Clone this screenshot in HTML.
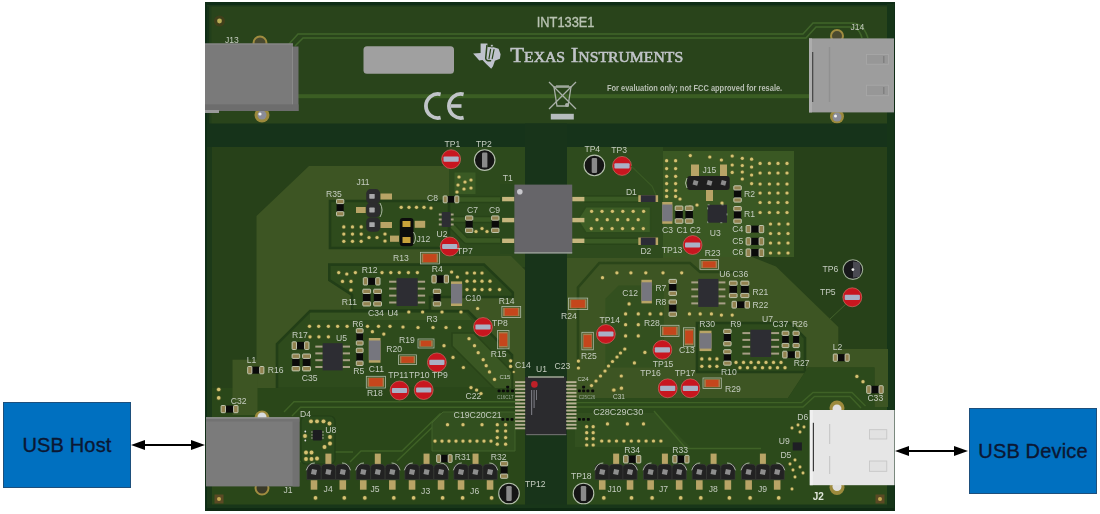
<!DOCTYPE html>
<html><head><meta charset="utf-8">
<style>
html,body{margin:0;padding:0;background:#fff;width:1100px;height:514px;overflow:hidden;}
svg{display:block;position:absolute;left:0;top:0;will-change:transform;}
.s{font-family:"Liberation Sans",sans-serif;}
.sf{font-family:"Liberation Serif",serif;}
.lb{font-family:"Liberation Sans",sans-serif;font-size:8.6px;fill:#c5ccc0;}
.box{position:absolute;background:#0070c0;border:1px solid #1d4f7c;box-sizing:border-box;font-family:"Liberation Sans",sans-serif;color:#0b1733;font-size:20px;-webkit-text-stroke:0.35px #0b1733;letter-spacing:0.15px;display:flex;align-items:center;justify-content:center;}
</style></head>
<body>
<svg width="1100" height="514" viewBox="0 0 1100 514">
<!-- BOARD base -->
<rect x="205" y="2" width="690" height="509" fill="#0f2d16"/>
<rect x="207" y="5" width="680" height="503" fill="#29441b"/>
<rect x="887" y="4" width="7" height="505" fill="#163518"/>
<!-- ===== HEADER ===== -->
<g id="header">
  <!-- mounting hole -->
  <rect x="207" y="5" width="2.5" height="119" fill="#173318"/>
  <rect x="209.5" y="5" width="2" height="119" fill="#223f1b"/>
  <rect x="207" y="5" width="680" height="1.5" fill="#1c381a"/>
  <circle cx="219.5" cy="21" r="5.5" fill="#5a3a1a" opacity="0.45"/>
  <circle cx="219.5" cy="21" r="2.4" fill="#b9ad55"/>
  <!-- traces -->
  <path d="M289,44 L298,34 L803,34 L813,23 L852,23 Q862,23 866,33 L868,38" fill="none" stroke="#40652a" stroke-width="1.6"/>
  <path d="M295,46 L303,38 L806,38 L816,27 L850,27 Q858,27 861,35 L862,38" fill="none" stroke="#40652a" stroke-width="1.6"/>
  <rect x="298" y="94.2" width="511" height="4" fill="#3b5e23"/>
  <!-- label box -->
  <rect x="363.5" y="46.3" width="90.5" height="27.5" rx="3.5" fill="#a0a0a0"/>
  <!-- INT133E1 -->
  <text x="536.8" y="27.1" class="s" font-size="14" fill="#b9c3b3" stroke="#b9c3b3" stroke-width="0.35" textLength="57.7" lengthAdjust="spacingAndGlyphs">INT133E1</text>
  <!-- TI logo -->
  <path d="M480.6,43.4 L487.4,43.4 L487.6,47 L493.7,47.3 L498.6,48.7 L500.6,54.3 L499.9,58.7 L494.9,60.7 L493,66.2 L491.2,68.8 L486.2,63.9 L482.5,60 L479.3,60.6 L473.1,53.4 L480.6,53 Z" fill="#bfc3cd"/>
  <g stroke="#29441b" fill="none" stroke-linecap="round">
    <path d="M486.9,45.6 L485.7,58.2 Q486,61.3 490.6,60.7" stroke-width="1.5"/>
    <path d="M490.6,49.4 L489,58.6" stroke-width="1.2"/>
    <path d="M494,49.6 L492.2,58.6" stroke-width="1.2"/>
  </g>
  <circle cx="491.9" cy="45.7" r="1.3" fill="#cfd3d8" stroke="#29441b" stroke-width="0.7"/>
  <!-- TEXAS INSTRUMENTS -->
  <text x="510.2" y="62" class="sf" font-size="21.6" fill="#c0c4c8" stroke="#c0c4c8" stroke-width="0.55" font-variant="small-caps" textLength="173" lengthAdjust="spacingAndGlyphs">Texas Instruments</text>
  <!-- For evaluation -->
  <text x="606.9" y="90.5" class="s" font-size="8.2" font-weight="bold" fill="#b8bfb4" textLength="175.3" lengthAdjust="spacingAndGlyphs">For evaluation only; not FCC approved for resale.</text>
  <!-- CE -->
  <path d="M440.6,94.3 A12,12 0 1 0 440.6,117.7" fill="none" stroke="#c0c4c8" stroke-width="3.8"/>
  <path d="M463.6,94.3 A12,12 0 1 0 463.6,117.7" fill="none" stroke="#c0c4c8" stroke-width="3.8"/>
  <rect x="451" y="104.2" width="10.5" height="3.6" fill="#c0c4c8"/>
  <!-- WEEE -->
  <g stroke="#a9b0a8" stroke-width="1.3" fill="none">
    <line x1="549" y1="82" x2="576" y2="109"/>
    <line x1="576" y1="82" x2="549" y2="109"/>
    <path d="M554,87 L571,87 L568,106 L557,106 Z"/>
    <line x1="556" y1="86" x2="569" y2="86"/>
  </g>
  <circle cx="567" cy="105" r="2" fill="#a9b0a8"/>
  <rect x="550.8" y="113.8" width="23" height="5.7" fill="#b6bcbd"/>
  <!-- J13 -->
  <circle cx="260" cy="43" r="6.5" fill="#4a4a30" stroke="#a08c40" stroke-width="2"/>
  <circle cx="262" cy="115" r="7.5" fill="#9c8a3c"/>
  <circle cx="262" cy="115" r="4.5" fill="#8a8c98"/><circle cx="260" cy="114" r="1.6" fill="#f0f0f0"/>
  <rect x="205" y="43.5" width="88" height="67.5" fill="#7a7a7a"/>
  <rect x="292" y="46.5" width="6.5" height="64.5" fill="#717171"/>
  <rect x="292" y="46.5" width="1" height="64.5" fill="#8a8a8a"/>
  <rect x="205" y="104.4" width="93.5" height="6.6" fill="#6d6d6d"/>
  <rect x="205" y="43.5" width="88" height="1" fill="#8c8c8c"/>
  <rect x="205" y="110" width="14" height="3" fill="#9a9a9a"/>
  <text x="225" y="43" class="lb" fill="#c5ccc0">J13</text>
  <!-- J14 -->
  <circle cx="837" cy="36" r="6" fill="#4a4a30" stroke="#a08c40" stroke-width="2"/>
  <circle cx="837" cy="116.5" r="7" fill="#9c8a3c"/>
  <circle cx="837" cy="117" r="4.5" fill="#8a8c98"/><circle cx="835.5" cy="116" r="1.5" fill="#f0f0f0"/>
  <rect x="809" y="38.4" width="85" height="74" fill="#9d9d9d"/>
  <rect x="809" y="38.4" width="3" height="74" fill="#adadad"/>
  <rect x="812" y="52" width="1.3" height="50" fill="#4a4a4a"/>
  <rect x="828.8" y="47" width="1.4" height="55" fill="#909090"/>
  <rect x="866.5" y="54.5" width="21.9" height="9.7" fill="#979797" stroke="#a8a8a8" stroke-width="0.8"/>
  <rect x="883" y="56" width="1.5" height="7" fill="#808080"/>
  <rect x="866.5" y="85.2" width="21.9" height="10.5" fill="#979797" stroke="#a8a8a8" stroke-width="0.8"/>
  <rect x="883" y="87" width="1.5" height="7" fill="#808080"/>
  <text x="850.4" y="29.7" class="lb">J14</text>
</g>

<!-- ===== LOWER BOARD ===== -->
<rect x="207" y="123.5" width="680" height="23.5" fill="#16331a"/>
<rect x="207" y="147" width="5" height="361" fill="#1c3919"/>
<rect x="212" y="147" width="313" height="360" fill="#274119"/>
<rect x="567" y="147" width="320" height="360" fill="#274119"/>
<rect x="525" y="123.5" width="42" height="385" fill="#18341a"/>
<rect x="449" y="147" width="76" height="120" fill="#2d4a1c"/>
<polygon points="309,166 449,166 449,256 511,256 525,270 525,388 256.5,388 256.5,216" fill="#3d5523"/>
<path d="M459,199.5 L502,199.5" fill="none" stroke="#284418" stroke-width="7.5" stroke-linejoin="round"/>
<path d="M452,219.5 L502,219.5" fill="none" stroke="#284418" stroke-width="7.5" stroke-linejoin="round"/>
<path d="M452,226 L466,240.5 L502,240.5" fill="none" stroke="#284418" stroke-width="7.5" stroke-linejoin="round"/>
<path d="M459,199.5 L502,199.5" fill="none" stroke="#3a5923" stroke-width="4.5" stroke-linejoin="round"/>
<path d="M452,219.5 L502,219.5" fill="none" stroke="#3a5923" stroke-width="4.5" stroke-linejoin="round"/>
<path d="M452,226 L466,240.5 L502,240.5" fill="none" stroke="#3a5923" stroke-width="4.5" stroke-linejoin="round"/>
<rect x="232.5" y="359.7" width="25" height="55" fill="#3d5523"/>
<rect x="454.5" y="172.5" width="21" height="21.5" fill="#3a5a24"/>
<polygon points="330,201 449,201 449,248 330,248" fill="#2e4b1c" stroke="#223e17" stroke-width="2.6"/>
<polygon points="329.3,264.6 484,264.6 512.8,292.5 512.8,297 430,297 430,310.6 352,310.6 352,295 329.3,280" fill="#2e4b1c" stroke="#223e17" stroke-width="2.6"/>
<polygon points="310,311 468,311 512,355 512,389 277,389 277,344" fill="#2e4b1c" stroke="#223e17" stroke-width="2.6"/>
<polygon points="452,333 474,333 512,372 512,392 498,392 452,346" fill="#3a5723" stroke="#294418" stroke-width="1.6"/>
<polygon points="310,313 466,313 472,320 310,320" fill="#375421"/>
<rect x="212" y="388" width="313" height="119" fill="#2a4719"/>
<rect x="232.5" y="388" width="25" height="27" fill="#3d5523"/>
<rect x="567" y="147" width="96" height="111" fill="#2e4b1d"/>
<polygon points="663,151 794,151 794,257 663,257" fill="#3a5823"/>
<polygon points="567,258 663,258 663,257 752,257 776,266.6 838.3,327 838.3,349 888,349 888,407 874.4,407 874.4,367.5 808,367.5 788,398 567,398" fill="#3d5523"/>
<polygon points="577.7,219.7 585.9,206.8 650.6,206.8 650.6,232.7 585.9,232.7" fill="#3d5d25" stroke="#2c4a1c" stroke-width="1.5"/>
<rect x="584" y="195.2" width="56" height="7.5" fill="#294519"/>
<rect x="584" y="237.4" width="56" height="7.5" fill="#294519"/>
<rect x="584" y="196.7" width="56" height="4.6" fill="#3a5a24"/>
<rect x="584" y="238.9" width="56" height="4.6" fill="#3a5a24"/>
<polygon points="618.5,285.6 664,285.6 664,367.5 605.4,367.5 605.4,298.8" fill="#33501f"/>
<path d="M578,367.5 L578,287.4 L599.3,263 L690,263 L700,272 L745,272" fill="none" stroke="#2a4519" stroke-width="2.6"/>
<polygon points="697,323 790,323 805,338 805,372 697,372" fill="#2e4b1c" stroke="#223e17" stroke-width="2.6"/>
<polygon points="567,398 788,398 808,367.5 874.4,367.5 874.4,407 887,407 887,507 567,507" fill="#2c4a1b"/>
<polygon points="575,413 656,413 690,447 575,447" fill="#32501f"/>
<rect x="207" y="504.5" width="680" height="3.5" fill="#183619"/>
<rect x="207" y="508" width="687" height="3" fill="#0f2a13"/>
<text x="356.4" y="184.9" font-family="Liberation Sans, sans-serif" font-size="8.6" fill="#c5ccc0">J11</text>
<text x="326" y="196.6" font-family="Liberation Sans, sans-serif" font-size="8.6" fill="#c5ccc0">R35</text>
<rect x="336.6" y="203.7" width="7.1" height="8.0" fill="#0a0a0a"/>
<rect x="336.5" y="199.4" width="7.3" height="4.2" rx="0.8" fill="#928250" stroke="#c9cfba" stroke-width="0.9"/>
<rect x="336.5" y="211.7" width="7.3" height="4.2" rx="0.8" fill="#928250" stroke="#c9cfba" stroke-width="0.9"/>
<rect x="366.2" y="189.10000000000002" width="14" height="14.4" rx="4.5" fill="#2c2c2e"/>
<rect x="366.2" y="202.8" width="14" height="14.4" rx="4.5" fill="#2c2c2e"/>
<rect x="366.2" y="217.4" width="14" height="14.4" rx="4.5" fill="#2c2c2e"/>
<rect x="369.3" y="193.9" width="5.4" height="4.8" rx="0.6" fill="#a9a9ab"/>
<rect x="369.3" y="207.6" width="5.4" height="4.8" rx="0.6" fill="#a9a9ab"/>
<rect x="369.3" y="222.2" width="5.4" height="4.8" rx="0.6" fill="#a9a9ab"/>
<rect x="380.5" y="193.5" width="11.5" height="6.0" fill="#b8a466"/>
<rect x="380.5" y="222" width="11.5" height="6.0" fill="#b8a466"/>
<rect x="356" y="207" width="9.7" height="6.0" fill="#b8a466"/>
<path d="M380,203 q4,7 0,14" stroke="#c8d0c2" stroke-width="0.8" fill="none"/>
<circle cx="343.8" cy="226.9" r="2.30" fill="#6a6a30" opacity="0.55"/><circle cx="343.8" cy="226.9" r="1.6" fill="#d5c272"/>
<circle cx="343.8" cy="234.1" r="2.30" fill="#6a6a30" opacity="0.55"/><circle cx="343.8" cy="234.1" r="1.6" fill="#d5c272"/>
<circle cx="343.8" cy="241.3" r="2.30" fill="#6a6a30" opacity="0.55"/><circle cx="343.8" cy="241.3" r="1.6" fill="#d5c272"/>
<circle cx="352.5" cy="226.9" r="2.30" fill="#6a6a30" opacity="0.55"/><circle cx="352.5" cy="226.9" r="1.6" fill="#d5c272"/>
<circle cx="352.5" cy="234.1" r="2.30" fill="#6a6a30" opacity="0.55"/><circle cx="352.5" cy="234.1" r="1.6" fill="#d5c272"/>
<circle cx="352.5" cy="241.3" r="2.30" fill="#6a6a30" opacity="0.55"/><circle cx="352.5" cy="241.3" r="1.6" fill="#d5c272"/>
<circle cx="361.2" cy="226.9" r="2.30" fill="#6a6a30" opacity="0.55"/><circle cx="361.2" cy="226.9" r="1.6" fill="#d5c272"/>
<circle cx="361.2" cy="234.1" r="2.30" fill="#6a6a30" opacity="0.55"/><circle cx="361.2" cy="234.1" r="1.6" fill="#d5c272"/>
<circle cx="361.2" cy="241.3" r="2.30" fill="#6a6a30" opacity="0.55"/><circle cx="361.2" cy="241.3" r="1.6" fill="#d5c272"/>
<circle cx="369" cy="237.5" r="2.30" fill="#6a6a30" opacity="0.55"/><circle cx="369" cy="237.5" r="1.6" fill="#d5c272"/>
<circle cx="377" cy="237.5" r="2.30" fill="#6a6a30" opacity="0.55"/><circle cx="377" cy="237.5" r="1.6" fill="#d5c272"/>
<circle cx="385" cy="241" r="2.30" fill="#6a6a30" opacity="0.55"/><circle cx="385" cy="241" r="1.6" fill="#d5c272"/>
<circle cx="385" cy="234" r="2.30" fill="#6a6a30" opacity="0.55"/><circle cx="385" cy="234" r="1.6" fill="#d5c272"/>
<rect x="399.8" y="218" width="13.7" height="28.2" rx="3" fill="#0c0c0c"/>
<rect x="402.5" y="221" width="8.0" height="6.0" fill="#c9a23a"/>
<rect x="402.5" y="237" width="8.0" height="6.0" fill="#c9a23a"/>
<path d="M413.5,232 q4,6 0,12" stroke="#c8d0c2" stroke-width="0.8" fill="none"/>
<rect x="414.7" y="220.8" width="10.5" height="7.0" fill="#b8a466"/>
<rect x="390" y="235.6" width="9.0" height="6.2" fill="#b8a466"/>
<text x="416.4" y="241.8" font-family="Liberation Sans, sans-serif" font-size="8.6" fill="#c5ccc0">J12</text>
<circle cx="401.2" cy="207.3" r="2.30" fill="#6a6a30" opacity="0.55"/><circle cx="401.2" cy="207.3" r="1.6" fill="#d5c272"/>
<circle cx="409" cy="207.3" r="2.30" fill="#6a6a30" opacity="0.55"/><circle cx="409" cy="207.3" r="1.6" fill="#d5c272"/>
<circle cx="416.5" cy="207.3" r="2.30" fill="#6a6a30" opacity="0.55"/><circle cx="416.5" cy="207.3" r="1.6" fill="#d5c272"/>
<circle cx="424" cy="207.3" r="2.30" fill="#6a6a30" opacity="0.55"/><circle cx="424" cy="207.3" r="1.6" fill="#d5c272"/>
<circle cx="431" cy="208" r="2.30" fill="#6a6a30" opacity="0.55"/><circle cx="431" cy="208" r="1.6" fill="#d5c272"/>
<text x="427" y="200.6" font-family="Liberation Sans, sans-serif" font-size="8.6" fill="#c5ccc0">C8</text>
<rect x="447.2" y="196.0" width="7.6" height="6.7" fill="#0a0a0a"/>
<rect x="443.2" y="195.9" width="4.0" height="6.9" rx="0.8" fill="#928250" stroke="#c9cfba" stroke-width="0.9"/>
<rect x="454.8" y="195.9" width="4.0" height="6.9" rx="0.8" fill="#928250" stroke="#c9cfba" stroke-width="0.9"/>
<rect x="438.8" y="213.5" width="3" height="2" fill="#a79f86"/>
<rect x="450.6" y="213.5" width="3" height="2" fill="#a79f86"/>
<rect x="438.8" y="218.5" width="3" height="2" fill="#a79f86"/>
<rect x="450.6" y="218.5" width="3" height="2" fill="#a79f86"/>
<rect x="438.8" y="223.5" width="3" height="2" fill="#a79f86"/>
<rect x="450.6" y="223.5" width="3" height="2" fill="#a79f86"/>
<rect x="441.8" y="212" width="8.8" height="15.0" fill="#2d2d33"/>
<text x="436.5" y="236.5" font-family="Liberation Sans, sans-serif" font-size="8.6" fill="#c5ccc0">U2</text>
<text x="444.5" y="146.8" font-family="Liberation Sans, sans-serif" font-size="8.6" fill="#c5ccc0">TP1</text>
<circle cx="451.1" cy="159.2" r="10.1" fill="#1e3a18" opacity="0.6"/>
<circle cx="451.1" cy="159.2" r="9.5" fill="#c8161f" stroke="#d88070" stroke-width="0.6"/>
<rect x="443.5" y="156.6" width="15.2" height="5.2" rx="1" fill="#a9b1c6"/>
<text x="476" y="146.8" font-family="Liberation Sans, sans-serif" font-size="8.6" fill="#c5ccc0">TP2</text>
<circle cx="484.7" cy="160.1" r="10.3" fill="#151515" stroke="#b5c0ad" stroke-width="1.1"/>
<rect x="482.0" y="152.6" width="5.4" height="15" rx="1.2" fill="#8a8a8a"/>
<circle cx="459" cy="177" r="2.30" fill="#6a6a30" opacity="0.55"/><circle cx="459" cy="177" r="1.6" fill="#d5c272"/>
<circle cx="465" cy="182" r="2.30" fill="#6a6a30" opacity="0.55"/><circle cx="465" cy="182" r="1.6" fill="#d5c272"/>
<circle cx="471" cy="180" r="2.30" fill="#6a6a30" opacity="0.55"/><circle cx="471" cy="180" r="1.6" fill="#d5c272"/>
<circle cx="458" cy="185" r="2.30" fill="#6a6a30" opacity="0.55"/><circle cx="458" cy="185" r="1.6" fill="#d5c272"/>
<circle cx="464" cy="189" r="2.30" fill="#6a6a30" opacity="0.55"/><circle cx="464" cy="189" r="1.6" fill="#d5c272"/>
<circle cx="471" cy="188" r="2.30" fill="#6a6a30" opacity="0.55"/><circle cx="471" cy="188" r="1.6" fill="#d5c272"/>
<circle cx="457" cy="192" r="2.30" fill="#6a6a30" opacity="0.55"/><circle cx="457" cy="192" r="1.6" fill="#d5c272"/>
<text x="467" y="213.1" font-family="Liberation Sans, sans-serif" font-size="8.6" fill="#c5ccc0">C7</text>
<rect x="465.6" y="220.2" width="7.1" height="8.0" fill="#0a0a0a"/>
<rect x="465.5" y="215.9" width="7.3" height="4.3" rx="0.8" fill="#928250" stroke="#c9cfba" stroke-width="0.9"/>
<rect x="465.5" y="228.2" width="7.3" height="4.3" rx="0.8" fill="#928250" stroke="#c9cfba" stroke-width="0.9"/>
<text x="489" y="213.1" font-family="Liberation Sans, sans-serif" font-size="8.6" fill="#c5ccc0">C9</text>
<rect x="491.7" y="220.2" width="7.2" height="8.0" fill="#0a0a0a"/>
<rect x="491.6" y="215.9" width="7.4" height="4.3" rx="0.8" fill="#928250" stroke="#c9cfba" stroke-width="0.9"/>
<rect x="491.6" y="228.2" width="7.4" height="4.3" rx="0.8" fill="#928250" stroke="#c9cfba" stroke-width="0.9"/>
<circle cx="476" cy="231.5" r="2.30" fill="#6a6a30" opacity="0.55"/><circle cx="476" cy="231.5" r="1.6" fill="#d5c272"/>
<circle cx="482" cy="228.5" r="2.30" fill="#6a6a30" opacity="0.55"/><circle cx="482" cy="228.5" r="1.6" fill="#d5c272"/>
<circle cx="487" cy="231.5" r="2.30" fill="#6a6a30" opacity="0.55"/><circle cx="487" cy="231.5" r="1.6" fill="#d5c272"/>
<circle cx="449.7" cy="246.5" r="10.1" fill="#1e3a18" opacity="0.6"/>
<circle cx="449.7" cy="246.5" r="9.5" fill="#c8161f" stroke="#d88070" stroke-width="0.6"/>
<rect x="442.1" y="243.9" width="15.2" height="5.2" rx="1" fill="#a9b1c6"/>
<text x="457" y="254" font-family="Liberation Sans, sans-serif" font-size="8.6" fill="#c5ccc0">TP7</text>
<text x="393.1" y="260.9" font-family="Liberation Sans, sans-serif" font-size="8.6" fill="#c5ccc0">R13</text>
<rect x="420.4" y="252.3" width="19.0" height="11.6" fill="none" stroke="#c8d0c2" stroke-width="0.8" opacity="0.85"/>
<rect x="421.6" y="253.5" width="16.6" height="9.2" fill="#a08050"/>
<rect x="423.2" y="254.1" width="13.4" height="8.0" fill="#c5461c"/>
<text x="361.7" y="273.4" font-family="Liberation Sans, sans-serif" font-size="8.6" fill="#c5ccc0">R12</text>
<rect x="367.6" y="277.8" width="8.1" height="7.1" fill="#0a0a0a"/>
<rect x="363.3" y="277.7" width="4.3" height="7.3" rx="0.8" fill="#928250" stroke="#c9cfba" stroke-width="0.9"/>
<rect x="375.7" y="277.7" width="4.3" height="7.3" rx="0.8" fill="#928250" stroke="#c9cfba" stroke-width="0.9"/>
<rect x="362.9" y="293.5" width="7.6" height="8.1" fill="#0a0a0a"/>
<rect x="362.8" y="289.2" width="7.8" height="4.3" rx="0.8" fill="#928250" stroke="#c9cfba" stroke-width="0.9"/>
<rect x="362.8" y="301.7" width="7.8" height="4.3" rx="0.8" fill="#928250" stroke="#c9cfba" stroke-width="0.9"/>
<rect x="373.8" y="293.5" width="7.6" height="8.1" fill="#0a0a0a"/>
<rect x="373.7" y="289.2" width="7.8" height="4.3" rx="0.8" fill="#928250" stroke="#c9cfba" stroke-width="0.9"/>
<rect x="373.7" y="301.7" width="7.8" height="4.3" rx="0.8" fill="#928250" stroke="#c9cfba" stroke-width="0.9"/>
<text x="341.8" y="305.4" font-family="Liberation Sans, sans-serif" font-size="8.6" fill="#c5ccc0">R11</text>
<text x="368" y="315.5" font-family="Liberation Sans, sans-serif" font-size="8.6" fill="#c5ccc0">C34</text>
<text x="387.4" y="315.5" font-family="Liberation Sans, sans-serif" font-size="8.6" fill="#c5ccc0">U4</text>
<rect x="389.1" y="280.7" width="7.5" height="2" fill="#a79f86"/>
<rect x="417.6" y="280.7" width="7.5" height="2" fill="#a79f86"/>
<rect x="389.1" y="287.6" width="7.5" height="2" fill="#a79f86"/>
<rect x="417.6" y="287.6" width="7.5" height="2" fill="#a79f86"/>
<rect x="389.1" y="294.6" width="7.5" height="2" fill="#a79f86"/>
<rect x="417.6" y="294.6" width="7.5" height="2" fill="#a79f86"/>
<rect x="389.1" y="301.5" width="7.5" height="2" fill="#a79f86"/>
<rect x="417.6" y="301.5" width="7.5" height="2" fill="#a79f86"/>
<rect x="396.6" y="278.2" width="21.0" height="27.8" fill="#2d2d33"/>
<text x="431.8" y="272" font-family="Liberation Sans, sans-serif" font-size="8.6" fill="#c5ccc0">R4</text>
<rect x="436.2" y="275.3" width="8.0" height="7.6" fill="#0a0a0a"/>
<rect x="431.9" y="275.2" width="4.3" height="7.8" rx="0.8" fill="#928250" stroke="#c9cfba" stroke-width="0.9"/>
<rect x="444.2" y="275.2" width="4.3" height="7.8" rx="0.8" fill="#928250" stroke="#c9cfba" stroke-width="0.9"/>
<rect x="433.4" y="293.5" width="7.2" height="8.1" fill="#0a0a0a"/>
<rect x="433.3" y="289.2" width="7.4" height="4.3" rx="0.8" fill="#928250" stroke="#c9cfba" stroke-width="0.9"/>
<rect x="433.3" y="301.7" width="7.4" height="4.3" rx="0.8" fill="#928250" stroke="#c9cfba" stroke-width="0.9"/>
<rect x="451" y="281.4" width="11.100000000000023" height="24.6" fill="#b8a466"/>
<rect x="451" y="283.9" width="11.100000000000023" height="19.6" fill="#76767e"/>
<text x="465.3" y="300.8" font-family="Liberation Sans, sans-serif" font-size="8.6" fill="#c5ccc0">C10</text>
<text x="498.7" y="304" font-family="Liberation Sans, sans-serif" font-size="8.6" fill="#c5ccc0">R14</text>
<rect x="501.9" y="306.5" width="18.8" height="10.9" fill="none" stroke="#c8d0c2" stroke-width="0.8" opacity="0.85"/>
<rect x="503.1" y="307.7" width="16.4" height="8.5" fill="#a08050"/>
<rect x="504.7" y="308.3" width="13.2" height="7.3" fill="#c5461c"/>
<circle cx="483" cy="327" r="10.1" fill="#1e3a18" opacity="0.6"/>
<circle cx="483" cy="327" r="9.5" fill="#c8161f" stroke="#d88070" stroke-width="0.6"/>
<rect x="475.4" y="324.4" width="15.2" height="5.2" rx="1" fill="#a9b1c6"/>
<text x="492" y="326.4" font-family="Liberation Sans, sans-serif" font-size="8.6" fill="#c5ccc0">TP8</text>
<text x="426.6" y="322.2" font-family="Liberation Sans, sans-serif" font-size="8.6" fill="#c5ccc0">R3</text>
<text x="352.3" y="327" font-family="Liberation Sans, sans-serif" font-size="8.6" fill="#c5ccc0">R6</text>
<rect x="497.5" y="330.6" width="11.5" height="18.2" fill="none" stroke="#c8d0c2" stroke-width="0.8" opacity="0.85"/>
<rect x="498.7" y="331.8" width="9.1" height="15.8" fill="#a08050"/>
<rect x="499.3" y="333.4" width="7.9" height="12.6" fill="#c5461c"/>
<text x="490.8" y="357.4" font-family="Liberation Sans, sans-serif" font-size="8.6" fill="#c5ccc0">R15</text>
<circle cx="338.7" cy="272.6" r="2.30" fill="#6a6a30" opacity="0.55"/><circle cx="338.7" cy="272.6" r="1.6" fill="#d5c272"/>
<circle cx="346.8" cy="274" r="2.30" fill="#6a6a30" opacity="0.55"/><circle cx="346.8" cy="274" r="1.6" fill="#d5c272"/>
<circle cx="355.4" cy="272.6" r="2.30" fill="#6a6a30" opacity="0.55"/><circle cx="355.4" cy="272.6" r="1.6" fill="#d5c272"/>
<circle cx="382" cy="272.6" r="2.30" fill="#6a6a30" opacity="0.55"/><circle cx="382" cy="272.6" r="1.6" fill="#d5c272"/>
<circle cx="390.8" cy="272.6" r="2.30" fill="#6a6a30" opacity="0.55"/><circle cx="390.8" cy="272.6" r="1.6" fill="#d5c272"/>
<circle cx="399.3" cy="272.6" r="2.30" fill="#6a6a30" opacity="0.55"/><circle cx="399.3" cy="272.6" r="1.6" fill="#d5c272"/>
<circle cx="408.4" cy="272.6" r="2.30" fill="#6a6a30" opacity="0.55"/><circle cx="408.4" cy="272.6" r="1.6" fill="#d5c272"/>
<circle cx="417.4" cy="272.6" r="2.30" fill="#6a6a30" opacity="0.55"/><circle cx="417.4" cy="272.6" r="1.6" fill="#d5c272"/>
<circle cx="342.5" cy="281.4" r="2.30" fill="#6a6a30" opacity="0.55"/><circle cx="342.5" cy="281.4" r="1.6" fill="#d5c272"/>
<circle cx="351" cy="281.4" r="2.30" fill="#6a6a30" opacity="0.55"/><circle cx="351" cy="281.4" r="1.6" fill="#d5c272"/>
<circle cx="351" cy="290" r="2.30" fill="#6a6a30" opacity="0.55"/><circle cx="351" cy="290" r="1.6" fill="#d5c272"/>
<circle cx="451.6" cy="272" r="2.30" fill="#6a6a30" opacity="0.55"/><circle cx="451.6" cy="272" r="1.6" fill="#d5c272"/>
<circle cx="457.4" cy="277" r="2.30" fill="#6a6a30" opacity="0.55"/><circle cx="457.4" cy="277" r="1.6" fill="#d5c272"/>
<circle cx="467" cy="273" r="2.30" fill="#6a6a30" opacity="0.55"/><circle cx="467" cy="273" r="1.6" fill="#d5c272"/>
<circle cx="474.5" cy="273" r="2.30" fill="#6a6a30" opacity="0.55"/><circle cx="474.5" cy="273" r="1.6" fill="#d5c272"/>
<circle cx="482" cy="273" r="2.30" fill="#6a6a30" opacity="0.55"/><circle cx="482" cy="273" r="1.6" fill="#d5c272"/>
<circle cx="467" cy="281.2" r="2.30" fill="#6a6a30" opacity="0.55"/><circle cx="467" cy="281.2" r="1.6" fill="#d5c272"/>
<circle cx="474.5" cy="281.2" r="2.30" fill="#6a6a30" opacity="0.55"/><circle cx="474.5" cy="281.2" r="1.6" fill="#d5c272"/>
<circle cx="482" cy="281.2" r="2.30" fill="#6a6a30" opacity="0.55"/><circle cx="482" cy="281.2" r="1.6" fill="#d5c272"/>
<circle cx="490" cy="281.2" r="2.30" fill="#6a6a30" opacity="0.55"/><circle cx="490" cy="281.2" r="1.6" fill="#d5c272"/>
<circle cx="467" cy="289.6" r="2.30" fill="#6a6a30" opacity="0.55"/><circle cx="467" cy="289.6" r="1.6" fill="#d5c272"/>
<circle cx="474.5" cy="289.6" r="2.30" fill="#6a6a30" opacity="0.55"/><circle cx="474.5" cy="289.6" r="1.6" fill="#d5c272"/>
<circle cx="482" cy="289.6" r="2.30" fill="#6a6a30" opacity="0.55"/><circle cx="482" cy="289.6" r="1.6" fill="#d5c272"/>
<circle cx="490" cy="289.6" r="2.30" fill="#6a6a30" opacity="0.55"/><circle cx="490" cy="289.6" r="1.6" fill="#d5c272"/>
<circle cx="499.5" cy="289.6" r="2.30" fill="#6a6a30" opacity="0.55"/><circle cx="499.5" cy="289.6" r="1.6" fill="#d5c272"/>
<circle cx="408.8" cy="312" r="2.30" fill="#6a6a30" opacity="0.55"/><circle cx="408.8" cy="312" r="1.6" fill="#d5c272"/>
<circle cx="422.6" cy="312" r="2.30" fill="#6a6a30" opacity="0.55"/><circle cx="422.6" cy="312" r="1.6" fill="#d5c272"/>
<circle cx="442" cy="312" r="2.30" fill="#6a6a30" opacity="0.55"/><circle cx="442" cy="312" r="1.6" fill="#d5c272"/>
<circle cx="461" cy="312" r="2.30" fill="#6a6a30" opacity="0.55"/><circle cx="461" cy="312" r="1.6" fill="#d5c272"/>
<circle cx="477.6" cy="308.5" r="2.30" fill="#6a6a30" opacity="0.55"/><circle cx="477.6" cy="308.5" r="1.6" fill="#d5c272"/>
<text x="292" y="338" font-family="Liberation Sans, sans-serif" font-size="8.6" fill="#c5ccc0">R17</text>
<rect x="296.5" y="341.9" width="8.2" height="7.5" fill="#0a0a0a"/>
<rect x="292.1" y="341.8" width="4.4" height="7.7" rx="0.8" fill="#928250" stroke="#c9cfba" stroke-width="0.9"/>
<rect x="304.6" y="341.8" width="4.4" height="7.7" rx="0.8" fill="#928250" stroke="#c9cfba" stroke-width="0.9"/>
<rect x="292.2" y="358.4" width="7.4" height="8.2" fill="#0a0a0a"/>
<rect x="292.1" y="354.0" width="7.6" height="4.4" rx="0.8" fill="#928250" stroke="#c9cfba" stroke-width="0.9"/>
<rect x="292.1" y="366.5" width="7.6" height="4.4" rx="0.8" fill="#928250" stroke="#c9cfba" stroke-width="0.9"/>
<rect x="302.7" y="358.4" width="7.7" height="8.2" fill="#0a0a0a"/>
<rect x="302.6" y="354.0" width="7.9" height="4.4" rx="0.8" fill="#928250" stroke="#c9cfba" stroke-width="0.9"/>
<rect x="302.6" y="366.5" width="7.9" height="4.4" rx="0.8" fill="#928250" stroke="#c9cfba" stroke-width="0.9"/>
<text x="301.7" y="381.1" font-family="Liberation Sans, sans-serif" font-size="8.6" fill="#c5ccc0">C35</text>
<rect x="315.3" y="345.6" width="7.4" height="2" fill="#a79f86"/>
<rect x="342.6" y="345.6" width="7.4" height="2" fill="#a79f86"/>
<rect x="315.3" y="352.4" width="7.4" height="2" fill="#a79f86"/>
<rect x="342.6" y="352.4" width="7.4" height="2" fill="#a79f86"/>
<rect x="315.3" y="359.2" width="7.4" height="2" fill="#a79f86"/>
<rect x="342.6" y="359.2" width="7.4" height="2" fill="#a79f86"/>
<rect x="315.3" y="366.0" width="7.4" height="2" fill="#a79f86"/>
<rect x="342.6" y="366.0" width="7.4" height="2" fill="#a79f86"/>
<rect x="322.7" y="343.2" width="19.9" height="27.2" fill="#2d2d33"/>
<text x="336.1" y="340.7" font-family="Liberation Sans, sans-serif" font-size="8.6" fill="#c5ccc0">U5</text>
<rect x="356.4" y="332.9" width="6.6" height="8.0" fill="#0a0a0a"/>
<rect x="356.3" y="328.7" width="6.8" height="4.2" rx="0.8" fill="#928250" stroke="#c9cfba" stroke-width="0.9"/>
<rect x="356.3" y="340.9" width="6.8" height="4.2" rx="0.8" fill="#928250" stroke="#c9cfba" stroke-width="0.9"/>
<rect x="356.4" y="352.7" width="6.6" height="8.3" fill="#0a0a0a"/>
<rect x="356.3" y="348.2" width="6.8" height="4.5" rx="0.8" fill="#928250" stroke="#c9cfba" stroke-width="0.9"/>
<rect x="356.3" y="361.0" width="6.8" height="4.5" rx="0.8" fill="#928250" stroke="#c9cfba" stroke-width="0.9"/>
<text x="353.3" y="374.3" font-family="Liberation Sans, sans-serif" font-size="8.6" fill="#c5ccc0">R5</text>
<rect x="368.8" y="338" width="11.699999999999989" height="24.7" fill="#b8a466"/>
<rect x="368.8" y="340.5" width="11.699999999999989" height="19.7" fill="#76767e"/>
<text x="368.8" y="371.8" font-family="Liberation Sans, sans-serif" font-size="8.6" fill="#c5ccc0">C11</text>
<rect x="366.3" y="376.3" width="19.1" height="11.7" fill="none" stroke="#c8d0c2" stroke-width="0.8" opacity="0.85"/>
<rect x="367.5" y="377.5" width="16.7" height="9.3" fill="#a08050"/>
<rect x="369.1" y="378.1" width="13.5" height="8.1" fill="#c5461c"/>
<text x="366.9" y="396.3" font-family="Liberation Sans, sans-serif" font-size="8.6" fill="#c5ccc0">R18</text>
<text x="386.3" y="352.4" font-family="Liberation Sans, sans-serif" font-size="8.6" fill="#c5ccc0">R20</text>
<rect x="398.6" y="354.9" width="17.9" height="9.7" fill="none" stroke="#c8d0c2" stroke-width="0.8" opacity="0.85"/>
<rect x="399.8" y="356.1" width="15.5" height="7.3" fill="#a08050"/>
<rect x="401.4" y="356.7" width="12.3" height="6.1" fill="#c5461c"/>
<text x="399" y="343.2" font-family="Liberation Sans, sans-serif" font-size="8.6" fill="#c5ccc0">R19</text>
<rect x="418" y="339" width="16.0" height="9.0" fill="none" stroke="#c8d0c2" stroke-width="0.8" opacity="0.85"/>
<rect x="419.2" y="340.2" width="13.6" height="6.6" fill="#a08050"/>
<rect x="420.8" y="340.8" width="10.4" height="5.4" fill="#c5461c"/>
<circle cx="399.5" cy="390.5" r="10.1" fill="#1e3a18" opacity="0.6"/>
<circle cx="399.5" cy="390.5" r="9.5" fill="#c8161f" stroke="#d88070" stroke-width="0.6"/>
<rect x="391.9" y="387.9" width="15.2" height="5.2" rx="1" fill="#a9b1c6"/>
<text x="388.3" y="377.8" font-family="Liberation Sans, sans-serif" font-size="8.6" fill="#c5ccc0">TP11</text>
<circle cx="423.7" cy="390" r="10.1" fill="#1e3a18" opacity="0.6"/>
<circle cx="423.7" cy="390" r="9.5" fill="#c8161f" stroke="#d88070" stroke-width="0.6"/>
<rect x="416.1" y="387.4" width="15.2" height="5.2" rx="1" fill="#a9b1c6"/>
<text x="409" y="377.8" font-family="Liberation Sans, sans-serif" font-size="8.6" fill="#c5ccc0">TP10</text>
<circle cx="436.9" cy="362.4" r="10.1" fill="#1e3a18" opacity="0.6"/>
<circle cx="436.9" cy="362.4" r="9.5" fill="#c8161f" stroke="#d88070" stroke-width="0.6"/>
<rect x="429.3" y="359.8" width="15.2" height="5.2" rx="1" fill="#a9b1c6"/>
<text x="432" y="377.8" font-family="Liberation Sans, sans-serif" font-size="8.6" fill="#c5ccc0">TP9</text>
<circle cx="309.5" cy="326.3" r="2.30" fill="#6a6a30" opacity="0.55"/><circle cx="309.5" cy="326.3" r="1.6" fill="#d5c272"/>
<circle cx="318.7" cy="326.3" r="2.30" fill="#6a6a30" opacity="0.55"/><circle cx="318.7" cy="326.3" r="1.6" fill="#d5c272"/>
<circle cx="328.4" cy="326.3" r="2.30" fill="#6a6a30" opacity="0.55"/><circle cx="328.4" cy="326.3" r="1.6" fill="#d5c272"/>
<circle cx="337.6" cy="326.3" r="2.30" fill="#6a6a30" opacity="0.55"/><circle cx="337.6" cy="326.3" r="1.6" fill="#d5c272"/>
<circle cx="347.1" cy="326.3" r="2.30" fill="#6a6a30" opacity="0.55"/><circle cx="347.1" cy="326.3" r="1.6" fill="#d5c272"/>
<circle cx="367.5" cy="326.3" r="2.30" fill="#6a6a30" opacity="0.55"/><circle cx="367.5" cy="326.3" r="1.6" fill="#d5c272"/>
<circle cx="378.5" cy="326.3" r="2.30" fill="#6a6a30" opacity="0.55"/><circle cx="378.5" cy="326.3" r="1.6" fill="#d5c272"/>
<circle cx="390" cy="326.3" r="2.30" fill="#6a6a30" opacity="0.55"/><circle cx="390" cy="326.3" r="1.6" fill="#d5c272"/>
<circle cx="403" cy="327" r="2.30" fill="#6a6a30" opacity="0.55"/><circle cx="403" cy="327" r="1.6" fill="#d5c272"/>
<circle cx="418" cy="327.5" r="2.30" fill="#6a6a30" opacity="0.55"/><circle cx="418" cy="327.5" r="1.6" fill="#d5c272"/>
<circle cx="433" cy="327.5" r="2.30" fill="#6a6a30" opacity="0.55"/><circle cx="433" cy="327.5" r="1.6" fill="#d5c272"/>
<circle cx="446" cy="327.5" r="2.30" fill="#6a6a30" opacity="0.55"/><circle cx="446" cy="327.5" r="1.6" fill="#d5c272"/>
<circle cx="459.7" cy="327.5" r="2.30" fill="#6a6a30" opacity="0.55"/><circle cx="459.7" cy="327.5" r="1.6" fill="#d5c272"/>
<circle cx="310" cy="336.8" r="2.30" fill="#6a6a30" opacity="0.55"/><circle cx="310" cy="336.8" r="1.6" fill="#d5c272"/>
<circle cx="318.9" cy="336.8" r="2.30" fill="#6a6a30" opacity="0.55"/><circle cx="318.9" cy="336.8" r="1.6" fill="#d5c272"/>
<circle cx="328.4" cy="336.8" r="2.30" fill="#6a6a30" opacity="0.55"/><circle cx="328.4" cy="336.8" r="1.6" fill="#d5c272"/>
<circle cx="372.4" cy="331.7" r="2.30" fill="#6a6a30" opacity="0.55"/><circle cx="372.4" cy="331.7" r="1.6" fill="#d5c272"/>
<circle cx="383.8" cy="334.1" r="2.30" fill="#6a6a30" opacity="0.55"/><circle cx="383.8" cy="334.1" r="1.6" fill="#d5c272"/>
<text x="246.8" y="362.7" font-family="Liberation Sans, sans-serif" font-size="8.6" fill="#c5ccc0">L1</text>
<rect x="251.9" y="366.6" width="7.9" height="7.1" fill="#0a0a0a"/>
<rect x="247.7" y="366.5" width="4.2" height="7.3" rx="0.8" fill="#928250" stroke="#c9cfba" stroke-width="0.9"/>
<rect x="259.7" y="366.5" width="4.2" height="7.3" rx="0.8" fill="#928250" stroke="#c9cfba" stroke-width="0.9"/>
<text x="267.7" y="372.8" font-family="Liberation Sans, sans-serif" font-size="8.6" fill="#c5ccc0">R16</text>
<text x="230.7" y="403.5" font-family="Liberation Sans, sans-serif" font-size="8.6" fill="#c5ccc0">C32</text>
<rect x="225.5" y="405.6" width="8.2" height="7.0" fill="#0a0a0a"/>
<rect x="221.1" y="405.5" width="4.4" height="7.2" rx="0.8" fill="#928250" stroke="#c9cfba" stroke-width="0.9"/>
<rect x="233.6" y="405.5" width="4.4" height="7.2" rx="0.8" fill="#928250" stroke="#c9cfba" stroke-width="0.9"/>
<circle cx="218.7" cy="389.5" r="2.50" fill="#6a6a30" opacity="0.55"/><circle cx="218.7" cy="389.5" r="1.8" fill="#d5c272"/>
<circle cx="218.7" cy="397.9" r="2.50" fill="#6a6a30" opacity="0.55"/><circle cx="218.7" cy="397.9" r="1.8" fill="#d5c272"/>
<path d="M284,412 L294,401.8 L520,401.8" stroke="#3f6226" stroke-width="1.4" fill="none"/>
<path d="M292,416 L300.5,407.3 L520,407.3" stroke="#3f6226" stroke-width="1.4" fill="none"/>
<path d="M350,462 L361,451 L402,451 L440,414 L443,414" stroke="#3f6226" stroke-width="1.4" fill="none"/>
<path d="M397,461 L441,419" stroke="#3f6226" stroke-width="1.4" fill="none"/>
<path d="M300,462 L312,452 L353,452" stroke="#3f6226" stroke-width="1.4" fill="none"/>
<polygon points="443,412 515,412 515,451 432,451 432,423" fill="#32501f" stroke="#41632a" stroke-width="1"/>
<text x="453.6" y="418.2" font-family="Liberation Sans, sans-serif" font-size="8.6" fill="#c5ccc0" textLength="48" lengthAdjust="spacingAndGlyphs">C19C20C21</text>
<circle cx="447.5" cy="424.7" r="2.30" fill="#6a6a30" opacity="0.55"/><circle cx="447.5" cy="424.7" r="1.6" fill="#d5c272"/>
<circle cx="463" cy="424.7" r="2.30" fill="#6a6a30" opacity="0.55"/><circle cx="463" cy="424.7" r="1.6" fill="#d5c272"/>
<circle cx="482" cy="424.7" r="2.30" fill="#6a6a30" opacity="0.55"/><circle cx="482" cy="424.7" r="1.6" fill="#d5c272"/>
<circle cx="435" cy="441.1" r="2.30" fill="#6a6a30" opacity="0.55"/><circle cx="435" cy="441.1" r="1.6" fill="#d5c272"/>
<circle cx="442" cy="441.1" r="2.30" fill="#6a6a30" opacity="0.55"/><circle cx="442" cy="441.1" r="1.6" fill="#d5c272"/>
<circle cx="449" cy="441.1" r="2.30" fill="#6a6a30" opacity="0.55"/><circle cx="449" cy="441.1" r="1.6" fill="#d5c272"/>
<circle cx="456" cy="441.1" r="2.30" fill="#6a6a30" opacity="0.55"/><circle cx="456" cy="441.1" r="1.6" fill="#d5c272"/>
<circle cx="463" cy="441.1" r="2.30" fill="#6a6a30" opacity="0.55"/><circle cx="463" cy="441.1" r="1.6" fill="#d5c272"/>
<circle cx="470" cy="441.1" r="2.30" fill="#6a6a30" opacity="0.55"/><circle cx="470" cy="441.1" r="1.6" fill="#d5c272"/>
<circle cx="477" cy="441.1" r="2.30" fill="#6a6a30" opacity="0.55"/><circle cx="477" cy="441.1" r="1.6" fill="#d5c272"/>
<circle cx="484" cy="441.1" r="2.30" fill="#6a6a30" opacity="0.55"/><circle cx="484" cy="441.1" r="1.6" fill="#d5c272"/>
<circle cx="491" cy="441.1" r="2.30" fill="#6a6a30" opacity="0.55"/><circle cx="491" cy="441.1" r="1.6" fill="#d5c272"/>
<circle cx="497.3" cy="424.7" r="2.30" fill="#6a6a30" opacity="0.55"/><circle cx="497.3" cy="424.7" r="1.6" fill="#d5c272"/>
<circle cx="497.3" cy="431" r="2.30" fill="#6a6a30" opacity="0.55"/><circle cx="497.3" cy="431" r="1.6" fill="#d5c272"/>
<circle cx="497.3" cy="437.6" r="2.30" fill="#6a6a30" opacity="0.55"/><circle cx="497.3" cy="437.6" r="1.6" fill="#d5c272"/>
<circle cx="497.3" cy="444.2" r="2.30" fill="#6a6a30" opacity="0.55"/><circle cx="497.3" cy="444.2" r="1.6" fill="#d5c272"/>
<circle cx="505.6" cy="424.7" r="2.30" fill="#6a6a30" opacity="0.55"/><circle cx="505.6" cy="424.7" r="1.6" fill="#d5c272"/>
<circle cx="505.6" cy="431" r="2.30" fill="#6a6a30" opacity="0.55"/><circle cx="505.6" cy="431" r="1.6" fill="#d5c272"/>
<circle cx="505.6" cy="437.6" r="2.30" fill="#6a6a30" opacity="0.55"/><circle cx="505.6" cy="437.6" r="1.6" fill="#d5c272"/>
<circle cx="505.6" cy="444.2" r="2.30" fill="#6a6a30" opacity="0.55"/><circle cx="505.6" cy="444.2" r="1.6" fill="#d5c272"/>
<text x="465.6" y="398.5" font-family="Liberation Sans, sans-serif" font-size="8.6" fill="#c5ccc0">C22</text>
<circle cx="471" cy="387.6" r="2.30" fill="#6a6a30" opacity="0.55"/><circle cx="471" cy="387.6" r="1.6" fill="#d5c272"/>
<circle cx="476.6" cy="390" r="2.30" fill="#6a6a30" opacity="0.55"/><circle cx="476.6" cy="390" r="1.6" fill="#d5c272"/>
<circle cx="481" cy="393.5" r="2.30" fill="#6a6a30" opacity="0.55"/><circle cx="481" cy="393.5" r="1.6" fill="#d5c272"/>
<rect x="301" y="416" width="34" height="48" rx="5" fill="#2b4a1c" stroke="#223e17" stroke-width="1.2"/>
<rect x="311" y="431.5" width="2" height="1" fill="#9a9a8a"/><rect x="322" y="431.5" width="2" height="1" fill="#9a9a8a"/>
<rect x="311" y="434.5" width="2" height="1" fill="#9a9a8a"/><rect x="322" y="434.5" width="2" height="1" fill="#9a9a8a"/>
<rect x="311" y="437.5" width="2" height="1" fill="#9a9a8a"/><rect x="322" y="437.5" width="2" height="1" fill="#9a9a8a"/>
<rect x="312.8" y="430" width="9.2" height="10.6" rx="1" fill="#1c1c20"/>
<circle cx="305.3" cy="431.5" r="0.9" fill="#e0e0e0"/><circle cx="305.3" cy="440.5" r="0.9" fill="#e0e0e0"/>
<circle cx="311" cy="421.3" r="2.60" fill="#6a6a30" opacity="0.55"/><circle cx="311" cy="421.3" r="1.9" fill="#d5c272"/>
<circle cx="317" cy="421.3" r="2.60" fill="#6a6a30" opacity="0.55"/><circle cx="317" cy="421.3" r="1.9" fill="#d5c272"/>
<circle cx="323.5" cy="421.3" r="2.60" fill="#6a6a30" opacity="0.55"/><circle cx="323.5" cy="421.3" r="1.9" fill="#d5c272"/>
<circle cx="329.5" cy="423.5" r="2.60" fill="#6a6a30" opacity="0.55"/><circle cx="329.5" cy="423.5" r="1.9" fill="#d5c272"/>
<circle cx="330" cy="437" r="2.60" fill="#6a6a30" opacity="0.55"/><circle cx="330" cy="437" r="1.9" fill="#d5c272"/>
<circle cx="330" cy="443.5" r="2.60" fill="#6a6a30" opacity="0.55"/><circle cx="330" cy="443.5" r="1.9" fill="#d5c272"/>
<circle cx="324.5" cy="447" r="2.60" fill="#6a6a30" opacity="0.55"/><circle cx="324.5" cy="447" r="1.9" fill="#d5c272"/>
<circle cx="305" cy="436" r="2.60" fill="#6a6a30" opacity="0.55"/><circle cx="305" cy="436" r="1.9" fill="#d5c272"/>
<circle cx="306" cy="452.5" r="2.60" fill="#6a6a30" opacity="0.55"/><circle cx="306" cy="452.5" r="1.9" fill="#d5c272"/>
<circle cx="311.5" cy="452.5" r="2.60" fill="#6a6a30" opacity="0.55"/><circle cx="311.5" cy="452.5" r="1.9" fill="#d5c272"/>
<circle cx="306" cy="459" r="2.60" fill="#6a6a30" opacity="0.55"/><circle cx="306" cy="459" r="1.9" fill="#d5c272"/>
<circle cx="311.5" cy="459" r="2.60" fill="#6a6a30" opacity="0.55"/><circle cx="311.5" cy="459" r="1.9" fill="#d5c272"/>
<circle cx="317" cy="458.5" r="2.60" fill="#6a6a30" opacity="0.55"/><circle cx="317" cy="458.5" r="1.9" fill="#d5c272"/>
<text x="300" y="416.9" font-family="Liberation Sans, sans-serif" font-size="8.6" fill="#c5ccc0">D4</text>
<text x="325.3" y="433" font-family="Liberation Sans, sans-serif" font-size="8.6" fill="#c5ccc0">U8</text>
<rect x="325.4" y="453.6" width="6.0" height="10.7" fill="#b8a466"/>
<rect x="310.7" y="480.2" width="6.6" height="9.5" fill="#b8a466"/>
<circle cx="315.5" cy="497.9" r="2.50" fill="#6a6a30" opacity="0.55"/><circle cx="315.5" cy="497.9" r="1.8" fill="#d5c272"/>
<rect x="339.5" y="480.2" width="6.6" height="9.5" fill="#b8a466"/>
<circle cx="344.3" cy="497.9" r="2.50" fill="#6a6a30" opacity="0.55"/><circle cx="344.3" cy="497.9" r="1.8" fill="#d5c272"/>
<path d="M306.9,479.6 L306.9,468.3 Q306.9,464.3 311.0,464.3 L317.0,464.3 Q321.1,464.3 321.1,468.3 L321.1,479.6 Z" fill="#222" stroke="#3a3a3a" stroke-width="0.6"/>
<rect x="311.4" y="469.4" width="5.2" height="5.2" fill="#8e8e8e" transform="rotate(12 314.0 472.0)"/>
<path d="M321.3,479.6 L321.3,468.3 Q321.3,464.3 325.4,464.3 L331.4,464.3 Q335.5,464.3 335.5,468.3 L335.5,479.6 Z" fill="#222" stroke="#3a3a3a" stroke-width="0.6"/>
<rect x="325.8" y="469.4" width="5.2" height="5.2" fill="#8e8e8e" transform="rotate(12 328.4 472.0)"/>
<path d="M335.7,479.6 L335.7,468.3 Q335.7,464.3 339.8,464.3 L345.8,464.3 Q349.9,464.3 349.9,468.3 L349.9,479.6 Z" fill="#222" stroke="#3a3a3a" stroke-width="0.6"/>
<rect x="340.2" y="469.4" width="5.2" height="5.2" fill="#8e8e8e" transform="rotate(12 342.8 472.0)"/>
<path d="M306.3,470.3 Q308.8,462.8 314.8,463.0" stroke="#c8d0c2" stroke-width="0.8" fill="none"/>
<path d="M350.5,470.3 Q348.0,462.8 342.0,463.0" stroke="#c8d0c2" stroke-width="0.8" fill="none"/>
<text x="323.6" y="491.6" font-family="Liberation Sans, sans-serif" font-size="8.6" fill="#c5ccc0">J4</text>
<rect x="374.8" y="453.6" width="6.0" height="10.7" fill="#b8a466"/>
<rect x="359.96666666666664" y="480.2" width="6.6" height="9.5" fill="#b8a466"/>
<circle cx="364.8" cy="497.9" r="2.50" fill="#6a6a30" opacity="0.55"/><circle cx="364.8" cy="497.9" r="1.8" fill="#d5c272"/>
<rect x="389.03333333333336" y="480.2" width="6.6" height="9.5" fill="#b8a466"/>
<circle cx="393.8" cy="497.9" r="2.50" fill="#6a6a30" opacity="0.55"/><circle cx="393.8" cy="497.9" r="1.8" fill="#d5c272"/>
<path d="M356.2,479.6 L356.2,468.3 Q356.2,464.3 360.3,464.3 L366.3,464.3 Q370.4,464.3 370.4,468.3 L370.4,479.6 Z" fill="#222" stroke="#3a3a3a" stroke-width="0.6"/>
<rect x="360.7" y="469.4" width="5.2" height="5.2" fill="#8e8e8e" transform="rotate(12 363.3 472.0)"/>
<path d="M370.7,479.6 L370.7,468.3 Q370.7,464.3 374.8,464.3 L380.8,464.3 Q384.9,464.3 384.9,468.3 L384.9,479.6 Z" fill="#222" stroke="#3a3a3a" stroke-width="0.6"/>
<rect x="375.2" y="469.4" width="5.2" height="5.2" fill="#8e8e8e" transform="rotate(12 377.8 472.0)"/>
<path d="M385.2,479.6 L385.2,468.3 Q385.2,464.3 389.3,464.3 L395.3,464.3 Q399.4,464.3 399.4,468.3 L399.4,479.6 Z" fill="#222" stroke="#3a3a3a" stroke-width="0.6"/>
<rect x="389.7" y="469.4" width="5.2" height="5.2" fill="#8e8e8e" transform="rotate(12 392.3 472.0)"/>
<path d="M355.5,470.3 Q358.0,462.8 364.0,463.0" stroke="#c8d0c2" stroke-width="0.8" fill="none"/>
<path d="M400.1,470.3 Q397.6,462.8 391.6,463.0" stroke="#c8d0c2" stroke-width="0.8" fill="none"/>
<text x="370.5" y="491.6" font-family="Liberation Sans, sans-serif" font-size="8.6" fill="#c5ccc0">J5</text>
<rect x="423.55" y="453.6" width="6.0" height="10.7" fill="#b8a466"/>
<rect x="408.75" y="480.2" width="6.6" height="9.5" fill="#b8a466"/>
<circle cx="413.6" cy="497.9" r="2.50" fill="#6a6a30" opacity="0.55"/><circle cx="413.6" cy="497.9" r="1.8" fill="#d5c272"/>
<rect x="437.75" y="480.2" width="6.6" height="9.5" fill="#b8a466"/>
<circle cx="442.6" cy="497.9" r="2.50" fill="#6a6a30" opacity="0.55"/><circle cx="442.6" cy="497.9" r="1.8" fill="#d5c272"/>
<path d="M404.9,479.6 L404.9,468.3 Q404.9,464.3 409.1,464.3 L415.1,464.3 Q419.2,464.3 419.2,468.3 L419.2,479.6 Z" fill="#222" stroke="#3a3a3a" stroke-width="0.6"/>
<rect x="409.4" y="469.4" width="5.2" height="5.2" fill="#8e8e8e" transform="rotate(12 412.1 472.0)"/>
<path d="M419.4,479.6 L419.4,468.3 Q419.4,464.3 423.6,464.3 L429.6,464.3 Q433.7,464.3 433.7,468.3 L433.7,479.6 Z" fill="#222" stroke="#3a3a3a" stroke-width="0.6"/>
<rect x="423.9" y="469.4" width="5.2" height="5.2" fill="#8e8e8e" transform="rotate(12 426.6 472.0)"/>
<path d="M433.9,479.6 L433.9,468.3 Q433.9,464.3 438.1,464.3 L444.1,464.3 Q448.2,464.3 448.2,468.3 L448.2,479.6 Z" fill="#222" stroke="#3a3a3a" stroke-width="0.6"/>
<rect x="438.4" y="469.4" width="5.2" height="5.2" fill="#8e8e8e" transform="rotate(12 441.1 472.0)"/>
<path d="M404.3,470.3 Q406.8,462.8 412.8,463.0" stroke="#c8d0c2" stroke-width="0.8" fill="none"/>
<path d="M448.8,470.3 Q446.3,462.8 440.3,463.0" stroke="#c8d0c2" stroke-width="0.8" fill="none"/>
<text x="421.1" y="493.8" font-family="Liberation Sans, sans-serif" font-size="8.6" fill="#c5ccc0">J3</text>
<rect x="472.55" y="453.6" width="6.0" height="10.7" fill="#b8a466"/>
<rect x="457.75" y="480.2" width="6.6" height="9.5" fill="#b8a466"/>
<circle cx="462.6" cy="497.9" r="2.50" fill="#6a6a30" opacity="0.55"/><circle cx="462.6" cy="497.9" r="1.8" fill="#d5c272"/>
<rect x="486.75" y="480.2" width="6.6" height="9.5" fill="#b8a466"/>
<circle cx="491.6" cy="497.9" r="2.50" fill="#6a6a30" opacity="0.55"/><circle cx="491.6" cy="497.9" r="1.8" fill="#d5c272"/>
<path d="M453.9,479.6 L453.9,468.3 Q453.9,464.3 458.1,464.3 L464.1,464.3 Q468.2,464.3 468.2,468.3 L468.2,479.6 Z" fill="#222" stroke="#3a3a3a" stroke-width="0.6"/>
<rect x="458.4" y="469.4" width="5.2" height="5.2" fill="#8e8e8e" transform="rotate(12 461.1 472.0)"/>
<path d="M468.4,479.6 L468.4,468.3 Q468.4,464.3 472.6,464.3 L478.6,464.3 Q482.7,464.3 482.7,468.3 L482.7,479.6 Z" fill="#222" stroke="#3a3a3a" stroke-width="0.6"/>
<rect x="472.9" y="469.4" width="5.2" height="5.2" fill="#8e8e8e" transform="rotate(12 475.6 472.0)"/>
<path d="M482.9,479.6 L482.9,468.3 Q482.9,464.3 487.1,464.3 L493.1,464.3 Q497.2,464.3 497.2,468.3 L497.2,479.6 Z" fill="#222" stroke="#3a3a3a" stroke-width="0.6"/>
<rect x="487.4" y="469.4" width="5.2" height="5.2" fill="#8e8e8e" transform="rotate(12 490.1 472.0)"/>
<path d="M453.3,470.3 Q455.8,462.8 461.8,463.0" stroke="#c8d0c2" stroke-width="0.8" fill="none"/>
<path d="M497.8,470.3 Q495.3,462.8 489.3,463.0" stroke="#c8d0c2" stroke-width="0.8" fill="none"/>
<text x="470.1" y="493.8" font-family="Liberation Sans, sans-serif" font-size="8.6" fill="#c5ccc0">J6</text>
<text x="454.7" y="459.6" font-family="Liberation Sans, sans-serif" font-size="8.6" fill="#c5ccc0">R31</text>
<rect x="440.6" y="454.8" width="7.6" height="7.5" fill="#0a0a0a"/>
<rect x="436.7" y="454.7" width="3.9" height="7.7" rx="0.8" fill="#928250" stroke="#c9cfba" stroke-width="0.9"/>
<rect x="448.2" y="454.7" width="3.9" height="7.7" rx="0.8" fill="#928250" stroke="#c9cfba" stroke-width="0.9"/>
<text x="490.7" y="459.6" font-family="Liberation Sans, sans-serif" font-size="8.6" fill="#c5ccc0">R32</text>
<rect x="500.6" y="465.9" width="7.0" height="8.1" fill="#0a0a0a"/>
<rect x="500.5" y="461.6" width="7.2" height="4.3" rx="0.8" fill="#928250" stroke="#c9cfba" stroke-width="0.9"/>
<rect x="500.5" y="474.0" width="7.2" height="4.3" rx="0.8" fill="#928250" stroke="#c9cfba" stroke-width="0.9"/>
<circle cx="509" cy="493.5" r="10.3" fill="#151515" stroke="#b5c0ad" stroke-width="1.1"/>
<rect x="506.3" y="486.0" width="5.4" height="15" rx="1.2" fill="#8a8a8a"/>
<text x="525" y="486.5" font-family="Liberation Sans, sans-serif" font-size="8.6" fill="#c5ccc0">TP12</text>
<rect x="214.5" y="494.5" width="9" height="9" fill="#5a4a24"/><circle cx="219" cy="499" r="2" fill="#c0a550"/>
<circle cx="262" cy="418" r="7.5" fill="#9c8a3c"/><circle cx="262" cy="417" r="4.5" fill="#d8dce0"/>
<circle cx="262" cy="488" r="6.5" fill="#3a3a28" stroke="#a08c40" stroke-width="2"/>
<rect x="206" y="417.4" width="93.4" height="69" fill="#7b7b7b"/>
<rect x="292.6" y="419" width="6.8" height="67.4" fill="#717171"/>
<rect x="206" y="417.4" width="93.4" height="1.2" fill="#a2a2a2"/>
<rect x="206" y="418.6" width="93.4" height="3" fill="#727272"/>
<text x="283.5" y="492.6" font-family="Liberation Sans, sans-serif" font-size="8.6" fill="#c5ccc0">J1</text>
<text x="584.4" y="151.9" font-family="Liberation Sans, sans-serif" font-size="8.6" fill="#c5ccc0">TP4</text>
<circle cx="594.4" cy="165.4" r="10.3" fill="#151515" stroke="#b5c0ad" stroke-width="1.1"/>
<rect x="591.7" y="157.9" width="5.4" height="15" rx="1.2" fill="#8a8a8a"/>
<text x="611.2" y="152.6" font-family="Liberation Sans, sans-serif" font-size="8.6" fill="#c5ccc0">TP3</text>
<circle cx="622" cy="165.9" r="10.1" fill="#1e3a18" opacity="0.6"/>
<circle cx="622" cy="165.9" r="9.5" fill="#c8161f" stroke="#d88070" stroke-width="0.6"/>
<rect x="614.4" y="163.3" width="15.2" height="5.2" rx="1" fill="#a9b1c6"/>
<path d="M631,166 L652,186 L656,195" stroke="#3a5a24" stroke-width="1.2" fill="none"/>
<rect x="638.3" y="195.2" width="19.8" height="6.8" fill="#b8a466"/>
<rect x="640.8" y="195.2" width="14.8" height="6.8" fill="#2c2c36"/>
<text x="625.9" y="195.1" font-family="Liberation Sans, sans-serif" font-size="8.6" fill="#c5ccc0">D1</text>
<rect x="638.3" y="237.5" width="19.8" height="7.5" fill="#b8a466"/>
<rect x="640.8" y="237.5" width="14.8" height="7.5" fill="#2c2c36"/>
<text x="640.4" y="253.8" font-family="Liberation Sans, sans-serif" font-size="8.6" fill="#c5ccc0">D2</text>
<circle cx="591.6" cy="211.3" r="2.30" fill="#6a6a30" opacity="0.55"/><circle cx="591.6" cy="211.3" r="1.6" fill="#d5c272"/>
<circle cx="602.0" cy="211.3" r="2.30" fill="#6a6a30" opacity="0.55"/><circle cx="602.0" cy="211.3" r="1.6" fill="#d5c272"/>
<circle cx="612.4" cy="211.3" r="2.30" fill="#6a6a30" opacity="0.55"/><circle cx="612.4" cy="211.3" r="1.6" fill="#d5c272"/>
<circle cx="622.8000000000001" cy="211.3" r="2.30" fill="#6a6a30" opacity="0.55"/><circle cx="622.8000000000001" cy="211.3" r="1.6" fill="#d5c272"/>
<circle cx="633.2" cy="211.3" r="2.30" fill="#6a6a30" opacity="0.55"/><circle cx="633.2" cy="211.3" r="1.6" fill="#d5c272"/>
<circle cx="643.6" cy="211.3" r="2.30" fill="#6a6a30" opacity="0.55"/><circle cx="643.6" cy="211.3" r="1.6" fill="#d5c272"/>
<circle cx="597.0" cy="219.7" r="2.30" fill="#6a6a30" opacity="0.55"/><circle cx="597.0" cy="219.7" r="1.6" fill="#d5c272"/>
<circle cx="607.3" cy="219.7" r="2.30" fill="#6a6a30" opacity="0.55"/><circle cx="607.3" cy="219.7" r="1.6" fill="#d5c272"/>
<circle cx="617.6" cy="219.7" r="2.30" fill="#6a6a30" opacity="0.55"/><circle cx="617.6" cy="219.7" r="1.6" fill="#d5c272"/>
<circle cx="627.9" cy="219.7" r="2.30" fill="#6a6a30" opacity="0.55"/><circle cx="627.9" cy="219.7" r="1.6" fill="#d5c272"/>
<circle cx="638.2" cy="219.7" r="2.30" fill="#6a6a30" opacity="0.55"/><circle cx="638.2" cy="219.7" r="1.6" fill="#d5c272"/>
<circle cx="591.3" cy="228.6" r="2.30" fill="#6a6a30" opacity="0.55"/><circle cx="591.3" cy="228.6" r="1.6" fill="#d5c272"/>
<circle cx="601.6999999999999" cy="228.6" r="2.30" fill="#6a6a30" opacity="0.55"/><circle cx="601.6999999999999" cy="228.6" r="1.6" fill="#d5c272"/>
<circle cx="612.0999999999999" cy="228.6" r="2.30" fill="#6a6a30" opacity="0.55"/><circle cx="612.0999999999999" cy="228.6" r="1.6" fill="#d5c272"/>
<circle cx="622.5" cy="228.6" r="2.30" fill="#6a6a30" opacity="0.55"/><circle cx="622.5" cy="228.6" r="1.6" fill="#d5c272"/>
<circle cx="632.9" cy="228.6" r="2.30" fill="#6a6a30" opacity="0.55"/><circle cx="632.9" cy="228.6" r="1.6" fill="#d5c272"/>
<circle cx="643.3" cy="228.6" r="2.30" fill="#6a6a30" opacity="0.55"/><circle cx="643.3" cy="228.6" r="1.6" fill="#d5c272"/>
<circle cx="666.6" cy="160.7" r="2.30" fill="#6a6a30" opacity="0.55"/><circle cx="666.6" cy="160.7" r="1.6" fill="#d5c272"/>
<circle cx="666.6" cy="168.6" r="2.30" fill="#6a6a30" opacity="0.55"/><circle cx="666.6" cy="168.6" r="1.6" fill="#d5c272"/>
<circle cx="666.6" cy="176.3" r="2.30" fill="#6a6a30" opacity="0.55"/><circle cx="666.6" cy="176.3" r="1.6" fill="#d5c272"/>
<circle cx="666.6" cy="183.6" r="2.30" fill="#6a6a30" opacity="0.55"/><circle cx="666.6" cy="183.6" r="1.6" fill="#d5c272"/>
<circle cx="666.6" cy="190.5" r="2.30" fill="#6a6a30" opacity="0.55"/><circle cx="666.6" cy="190.5" r="1.6" fill="#d5c272"/>
<circle cx="666.6" cy="196.4" r="2.30" fill="#6a6a30" opacity="0.55"/><circle cx="666.6" cy="196.4" r="1.6" fill="#d5c272"/>
<circle cx="675.6" cy="160.7" r="2.30" fill="#6a6a30" opacity="0.55"/><circle cx="675.6" cy="160.7" r="1.6" fill="#d5c272"/>
<circle cx="675.6" cy="168.6" r="2.30" fill="#6a6a30" opacity="0.55"/><circle cx="675.6" cy="168.6" r="1.6" fill="#d5c272"/>
<circle cx="675.6" cy="176.3" r="2.30" fill="#6a6a30" opacity="0.55"/><circle cx="675.6" cy="176.3" r="1.6" fill="#d5c272"/>
<circle cx="675.6" cy="183.6" r="2.30" fill="#6a6a30" opacity="0.55"/><circle cx="675.6" cy="183.6" r="1.6" fill="#d5c272"/>
<circle cx="675.6" cy="190.5" r="2.30" fill="#6a6a30" opacity="0.55"/><circle cx="675.6" cy="190.5" r="1.6" fill="#d5c272"/>
<circle cx="675.6" cy="196.4" r="2.30" fill="#6a6a30" opacity="0.55"/><circle cx="675.6" cy="196.4" r="1.6" fill="#d5c272"/>
<circle cx="690.3" cy="155.6" r="2.30" fill="#6a6a30" opacity="0.55"/><circle cx="690.3" cy="155.6" r="1.6" fill="#d5c272"/>
<circle cx="709.8" cy="157" r="2.30" fill="#6a6a30" opacity="0.55"/><circle cx="709.8" cy="157" r="1.6" fill="#d5c272"/>
<circle cx="721.4" cy="160" r="2.30" fill="#6a6a30" opacity="0.55"/><circle cx="721.4" cy="160" r="1.6" fill="#d5c272"/>
<circle cx="732.2" cy="156" r="2.30" fill="#6a6a30" opacity="0.55"/><circle cx="732.2" cy="156" r="1.6" fill="#d5c272"/>
<circle cx="742.3" cy="158.3" r="2.30" fill="#6a6a30" opacity="0.55"/><circle cx="742.3" cy="158.3" r="1.6" fill="#d5c272"/>
<circle cx="751.6" cy="159.2" r="2.30" fill="#6a6a30" opacity="0.55"/><circle cx="751.6" cy="159.2" r="1.6" fill="#d5c272"/>
<circle cx="732.2" cy="165" r="2.30" fill="#6a6a30" opacity="0.55"/><circle cx="732.2" cy="165" r="1.6" fill="#d5c272"/>
<circle cx="732.2" cy="172.4" r="2.30" fill="#6a6a30" opacity="0.55"/><circle cx="732.2" cy="172.4" r="1.6" fill="#d5c272"/>
<circle cx="742.3" cy="165.5" r="2.30" fill="#6a6a30" opacity="0.55"/><circle cx="742.3" cy="165.5" r="1.6" fill="#d5c272"/>
<circle cx="742.3" cy="172" r="2.30" fill="#6a6a30" opacity="0.55"/><circle cx="742.3" cy="172" r="1.6" fill="#d5c272"/>
<circle cx="742.3" cy="179" r="2.30" fill="#6a6a30" opacity="0.55"/><circle cx="742.3" cy="179" r="1.6" fill="#d5c272"/>
<circle cx="751.6" cy="167" r="2.30" fill="#6a6a30" opacity="0.55"/><circle cx="751.6" cy="167" r="1.6" fill="#d5c272"/>
<circle cx="751.6" cy="175" r="2.30" fill="#6a6a30" opacity="0.55"/><circle cx="751.6" cy="175" r="1.6" fill="#d5c272"/>
<circle cx="751.6" cy="183.6" r="2.30" fill="#6a6a30" opacity="0.55"/><circle cx="751.6" cy="183.6" r="1.6" fill="#d5c272"/>
<circle cx="680" cy="199" r="2.30" fill="#6a6a30" opacity="0.55"/><circle cx="680" cy="199" r="1.6" fill="#d5c272"/>
<circle cx="690" cy="207" r="2.30" fill="#6a6a30" opacity="0.55"/><circle cx="690" cy="207" r="1.6" fill="#d5c272"/>
<circle cx="697" cy="205" r="2.30" fill="#6a6a30" opacity="0.55"/><circle cx="697" cy="205" r="1.6" fill="#d5c272"/>
<circle cx="722" cy="203" r="2.30" fill="#6a6a30" opacity="0.55"/><circle cx="722" cy="203" r="1.6" fill="#d5c272"/>
<circle cx="760.1" cy="163.4" r="2.30" fill="#6a6a30" opacity="0.55"/><circle cx="760.1" cy="163.4" r="1.6" fill="#d5c272"/>
<circle cx="760.1" cy="173" r="2.30" fill="#6a6a30" opacity="0.55"/><circle cx="760.1" cy="173" r="1.6" fill="#d5c272"/>
<circle cx="760.1" cy="184" r="2.30" fill="#6a6a30" opacity="0.55"/><circle cx="760.1" cy="184" r="1.6" fill="#d5c272"/>
<circle cx="760.1" cy="193" r="2.30" fill="#6a6a30" opacity="0.55"/><circle cx="760.1" cy="193" r="1.6" fill="#d5c272"/>
<circle cx="760.1" cy="202.5" r="2.30" fill="#6a6a30" opacity="0.55"/><circle cx="760.1" cy="202.5" r="1.6" fill="#d5c272"/>
<circle cx="760.1" cy="212.5" r="2.30" fill="#6a6a30" opacity="0.55"/><circle cx="760.1" cy="212.5" r="1.6" fill="#d5c272"/>
<circle cx="769.4" cy="163.4" r="2.30" fill="#6a6a30" opacity="0.55"/><circle cx="769.4" cy="163.4" r="1.6" fill="#d5c272"/>
<circle cx="769.4" cy="173" r="2.30" fill="#6a6a30" opacity="0.55"/><circle cx="769.4" cy="173" r="1.6" fill="#d5c272"/>
<circle cx="769.4" cy="184" r="2.30" fill="#6a6a30" opacity="0.55"/><circle cx="769.4" cy="184" r="1.6" fill="#d5c272"/>
<circle cx="769.4" cy="193" r="2.30" fill="#6a6a30" opacity="0.55"/><circle cx="769.4" cy="193" r="1.6" fill="#d5c272"/>
<circle cx="769.4" cy="202.5" r="2.30" fill="#6a6a30" opacity="0.55"/><circle cx="769.4" cy="202.5" r="1.6" fill="#d5c272"/>
<circle cx="769.4" cy="212.5" r="2.30" fill="#6a6a30" opacity="0.55"/><circle cx="769.4" cy="212.5" r="1.6" fill="#d5c272"/>
<circle cx="778" cy="163.4" r="2.30" fill="#6a6a30" opacity="0.55"/><circle cx="778" cy="163.4" r="1.6" fill="#d5c272"/>
<circle cx="778" cy="173" r="2.30" fill="#6a6a30" opacity="0.55"/><circle cx="778" cy="173" r="1.6" fill="#d5c272"/>
<circle cx="778" cy="184" r="2.30" fill="#6a6a30" opacity="0.55"/><circle cx="778" cy="184" r="1.6" fill="#d5c272"/>
<circle cx="778" cy="193" r="2.30" fill="#6a6a30" opacity="0.55"/><circle cx="778" cy="193" r="1.6" fill="#d5c272"/>
<circle cx="778" cy="202.5" r="2.30" fill="#6a6a30" opacity="0.55"/><circle cx="778" cy="202.5" r="1.6" fill="#d5c272"/>
<circle cx="778" cy="212.5" r="2.30" fill="#6a6a30" opacity="0.55"/><circle cx="778" cy="212.5" r="1.6" fill="#d5c272"/>
<circle cx="787" cy="163.4" r="2.30" fill="#6a6a30" opacity="0.55"/><circle cx="787" cy="163.4" r="1.6" fill="#d5c272"/>
<circle cx="787" cy="173" r="2.30" fill="#6a6a30" opacity="0.55"/><circle cx="787" cy="173" r="1.6" fill="#d5c272"/>
<circle cx="787" cy="184" r="2.30" fill="#6a6a30" opacity="0.55"/><circle cx="787" cy="184" r="1.6" fill="#d5c272"/>
<circle cx="787" cy="193" r="2.30" fill="#6a6a30" opacity="0.55"/><circle cx="787" cy="193" r="1.6" fill="#d5c272"/>
<circle cx="787" cy="202.5" r="2.30" fill="#6a6a30" opacity="0.55"/><circle cx="787" cy="202.5" r="1.6" fill="#d5c272"/>
<circle cx="787" cy="212.5" r="2.30" fill="#6a6a30" opacity="0.55"/><circle cx="787" cy="212.5" r="1.6" fill="#d5c272"/>
<circle cx="770.5" cy="224" r="2.30" fill="#6a6a30" opacity="0.55"/><circle cx="770.5" cy="224" r="1.6" fill="#d5c272"/>
<circle cx="770.5" cy="233.5" r="2.30" fill="#6a6a30" opacity="0.55"/><circle cx="770.5" cy="233.5" r="1.6" fill="#d5c272"/>
<circle cx="770.5" cy="243" r="2.30" fill="#6a6a30" opacity="0.55"/><circle cx="770.5" cy="243" r="1.6" fill="#d5c272"/>
<circle cx="770.5" cy="253" r="2.30" fill="#6a6a30" opacity="0.55"/><circle cx="770.5" cy="253" r="1.6" fill="#d5c272"/>
<circle cx="779" cy="224" r="2.30" fill="#6a6a30" opacity="0.55"/><circle cx="779" cy="224" r="1.6" fill="#d5c272"/>
<circle cx="779" cy="233.5" r="2.30" fill="#6a6a30" opacity="0.55"/><circle cx="779" cy="233.5" r="1.6" fill="#d5c272"/>
<circle cx="779" cy="243" r="2.30" fill="#6a6a30" opacity="0.55"/><circle cx="779" cy="243" r="1.6" fill="#d5c272"/>
<circle cx="779" cy="253" r="2.30" fill="#6a6a30" opacity="0.55"/><circle cx="779" cy="253" r="1.6" fill="#d5c272"/>
<circle cx="788" cy="224" r="2.30" fill="#6a6a30" opacity="0.55"/><circle cx="788" cy="224" r="1.6" fill="#d5c272"/>
<circle cx="788" cy="233.5" r="2.30" fill="#6a6a30" opacity="0.55"/><circle cx="788" cy="233.5" r="1.6" fill="#d5c272"/>
<circle cx="788" cy="243" r="2.30" fill="#6a6a30" opacity="0.55"/><circle cx="788" cy="243" r="1.6" fill="#d5c272"/>
<circle cx="788" cy="253" r="2.30" fill="#6a6a30" opacity="0.55"/><circle cx="788" cy="253" r="1.6" fill="#d5c272"/>
<rect x="691" y="164.5" width="8.0" height="11.5" fill="#b8a466"/>
<rect x="720" y="164.5" width="7.0" height="11.5" fill="#b8a466"/>
<rect x="706" y="190" width="7.0" height="11.0" fill="#b8a466"/>
<rect x="687.1" y="175.9" width="42.6" height="14" rx="3" fill="#1e1e1e"/>
<rect x="693.1" y="180.5" width="4.8" height="4.8" fill="#8c8c8c" transform="rotate(15 695.5 182.9)"/>
<rect x="707.1" y="180.5" width="4.8" height="4.8" fill="#8c8c8c" transform="rotate(15 709.5 182.9)"/>
<rect x="721.1" y="180.5" width="4.8" height="4.8" fill="#8c8c8c" transform="rotate(15 723.5 182.9)"/>
<path d="M687,178 q-3,5 0,10" stroke="#c8d0c2" stroke-width="0.8" fill="none"/>
<text x="702.5" y="173.3" font-family="Liberation Sans, sans-serif" font-size="8.6" fill="#c5ccc0">J15</text>
<rect x="662.2" y="202" width="10.199999999999932" height="21.8" fill="#b8a466"/>
<rect x="662.2" y="204.5" width="10.199999999999932" height="16.8" fill="#76767e"/>
<rect x="675.3" y="210.5" width="7.5" height="8.3" fill="#0a0a0a"/>
<rect x="675.2" y="206.0" width="7.7" height="4.5" rx="0.8" fill="#928250" stroke="#c9cfba" stroke-width="0.9"/>
<rect x="675.2" y="218.8" width="7.7" height="4.5" rx="0.8" fill="#928250" stroke="#c9cfba" stroke-width="0.9"/>
<rect x="685.4" y="210.5" width="7.5" height="8.3" fill="#0a0a0a"/>
<rect x="685.3" y="206.0" width="7.7" height="4.5" rx="0.8" fill="#928250" stroke="#c9cfba" stroke-width="0.9"/>
<rect x="685.3" y="218.8" width="7.7" height="4.5" rx="0.8" fill="#928250" stroke="#c9cfba" stroke-width="0.9"/>
<text x="662" y="233.2" font-family="Liberation Sans, sans-serif" font-size="8.6" fill="#c5ccc0">C3</text>
<text x="676.5" y="233.2" font-family="Liberation Sans, sans-serif" font-size="8.6" fill="#c5ccc0">C1</text>
<text x="689.7" y="233.2" font-family="Liberation Sans, sans-serif" font-size="8.6" fill="#c5ccc0">C2</text>
<rect x="707.6" y="204.8" width="19.4" height="17.9" fill="#2a2a30"/>
<rect x="707.6" y="204.8" width="19.4" height="17.9" fill="none" stroke="#c8d0c2" stroke-width="0.6" stroke-dasharray="2,12"/>
<text x="709.8" y="235.5" font-family="Liberation Sans, sans-serif" font-size="8.6" fill="#c5ccc0">U3</text>
<rect x="733.9" y="190.0" width="7.3" height="7.9" fill="#0a0a0a"/>
<rect x="733.8" y="185.8" width="7.5" height="4.2" rx="0.8" fill="#928250" stroke="#c9cfba" stroke-width="0.9"/>
<rect x="733.8" y="197.9" width="7.5" height="4.2" rx="0.8" fill="#928250" stroke="#c9cfba" stroke-width="0.9"/>
<text x="744" y="197.4" font-family="Liberation Sans, sans-serif" font-size="8.6" fill="#c5ccc0">R2</text>
<rect x="733.9" y="210.8" width="7.3" height="8.1" fill="#0a0a0a"/>
<rect x="733.8" y="206.5" width="7.5" height="4.3" rx="0.8" fill="#928250" stroke="#c9cfba" stroke-width="0.9"/>
<rect x="733.8" y="219.0" width="7.5" height="4.3" rx="0.8" fill="#928250" stroke="#c9cfba" stroke-width="0.9"/>
<text x="744" y="216.7" font-family="Liberation Sans, sans-serif" font-size="8.6" fill="#c5ccc0">R1</text>
<rect x="750.7" y="225.6" width="8.4" height="7.0" fill="#0a0a0a"/>
<rect x="746.1" y="225.5" width="4.6" height="7.2" rx="0.8" fill="#928250" stroke="#c9cfba" stroke-width="0.9"/>
<rect x="759.1" y="225.5" width="4.6" height="7.2" rx="0.8" fill="#928250" stroke="#c9cfba" stroke-width="0.9"/>
<text x="732.2" y="232.3" font-family="Liberation Sans, sans-serif" font-size="8.6" fill="#c5ccc0">C4</text>
<rect x="750.7" y="237.8" width="8.4" height="7.1" fill="#0a0a0a"/>
<rect x="746.1" y="237.7" width="4.6" height="7.3" rx="0.8" fill="#928250" stroke="#c9cfba" stroke-width="0.9"/>
<rect x="759.1" y="237.7" width="4.6" height="7.3" rx="0.8" fill="#928250" stroke="#c9cfba" stroke-width="0.9"/>
<text x="732.2" y="243.5" font-family="Liberation Sans, sans-serif" font-size="8.6" fill="#c5ccc0">C5</text>
<rect x="750.7" y="249.0" width="8.4" height="7.4" fill="#0a0a0a"/>
<rect x="746.1" y="248.9" width="4.6" height="7.6" rx="0.8" fill="#928250" stroke="#c9cfba" stroke-width="0.9"/>
<rect x="759.1" y="248.9" width="4.6" height="7.6" rx="0.8" fill="#928250" stroke="#c9cfba" stroke-width="0.9"/>
<text x="732.2" y="255.1" font-family="Liberation Sans, sans-serif" font-size="8.6" fill="#c5ccc0">C6</text>
<circle cx="692.6" cy="245" r="10.1" fill="#1e3a18" opacity="0.6"/>
<circle cx="692.6" cy="245" r="9.5" fill="#c8161f" stroke="#d88070" stroke-width="0.6"/>
<rect x="685.0" y="242.4" width="15.2" height="5.2" rx="1" fill="#a9b1c6"/>
<text x="661.7" y="252.5" font-family="Liberation Sans, sans-serif" font-size="8.6" fill="#c5ccc0">TP13</text>
<text x="704.7" y="255.6" font-family="Liberation Sans, sans-serif" font-size="8.6" fill="#c5ccc0">R23</text>
<rect x="700" y="259.6" width="18.4" height="9.7" fill="none" stroke="#c8d0c2" stroke-width="0.8" opacity="0.85"/>
<rect x="701.2" y="260.8" width="16.0" height="7.3" fill="#a08050"/>
<rect x="702.8" y="261.4" width="12.8" height="6.1" fill="#c5461c"/>
<text x="719.3" y="277.1" font-family="Liberation Sans, sans-serif" font-size="8.6" fill="#c5ccc0">U6</text>
<text x="732.4" y="277.1" font-family="Liberation Sans, sans-serif" font-size="8.6" fill="#c5ccc0">C36</text>
<rect x="691.3" y="281.4" width="7" height="2" fill="#a79f86"/>
<rect x="718.4" y="281.4" width="7" height="2" fill="#a79f86"/>
<rect x="691.3" y="288.4" width="7" height="2" fill="#a79f86"/>
<rect x="718.4" y="288.4" width="7" height="2" fill="#a79f86"/>
<rect x="691.3" y="295.4" width="7" height="2" fill="#a79f86"/>
<rect x="718.4" y="295.4" width="7" height="2" fill="#a79f86"/>
<rect x="691.3" y="302.4" width="7" height="2" fill="#a79f86"/>
<rect x="718.4" y="302.4" width="7" height="2" fill="#a79f86"/>
<rect x="698.3" y="278.9" width="20.1" height="28.0" fill="#2d2d33"/>
<rect x="729.5" y="285.4" width="7.5" height="8.0" fill="#0a0a0a"/>
<rect x="729.4" y="281.1" width="7.7" height="4.2" rx="0.8" fill="#928250" stroke="#c9cfba" stroke-width="0.9"/>
<rect x="729.4" y="293.4" width="7.7" height="4.2" rx="0.8" fill="#928250" stroke="#c9cfba" stroke-width="0.9"/>
<rect x="740.9" y="285.4" width="7.9" height="8.0" fill="#0a0a0a"/>
<rect x="740.8" y="281.1" width="8.1" height="4.2" rx="0.8" fill="#928250" stroke="#c9cfba" stroke-width="0.9"/>
<rect x="740.8" y="293.4" width="8.1" height="4.2" rx="0.8" fill="#928250" stroke="#c9cfba" stroke-width="0.9"/>
<text x="752.5" y="294.6" font-family="Liberation Sans, sans-serif" font-size="8.6" fill="#c5ccc0">R21</text>
<rect x="736.5" y="301.4" width="8.4" height="6.6" fill="#0a0a0a"/>
<rect x="732.0" y="301.3" width="4.5" height="6.8" rx="0.8" fill="#928250" stroke="#c9cfba" stroke-width="0.9"/>
<rect x="745.0" y="301.3" width="4.5" height="6.8" rx="0.8" fill="#928250" stroke="#c9cfba" stroke-width="0.9"/>
<text x="752.5" y="307.8" font-family="Liberation Sans, sans-serif" font-size="8.6" fill="#c5ccc0">R22</text>
<rect x="641.4" y="279.8" width="10.5" height="23.6" fill="#b8a466"/>
<rect x="641.4" y="282.3" width="10.5" height="18.6" fill="#76767e"/>
<text x="622.2" y="296.4" font-family="Liberation Sans, sans-serif" font-size="8.6" fill="#c5ccc0">C12</text>
<rect x="669.1" y="283.5" width="7.3" height="7.8" fill="#0a0a0a"/>
<rect x="669.0" y="279.4" width="7.5" height="4.1" rx="0.8" fill="#928250" stroke="#c9cfba" stroke-width="0.9"/>
<rect x="669.0" y="291.3" width="7.5" height="4.1" rx="0.8" fill="#928250" stroke="#c9cfba" stroke-width="0.9"/>
<text x="655.4" y="291.1" font-family="Liberation Sans, sans-serif" font-size="8.6" fill="#c5ccc0">R7</text>
<rect x="669.1" y="304.1" width="7.3" height="8.0" fill="#0a0a0a"/>
<rect x="669.0" y="299.9" width="7.5" height="4.2" rx="0.8" fill="#928250" stroke="#c9cfba" stroke-width="0.9"/>
<rect x="669.0" y="312.1" width="7.5" height="4.2" rx="0.8" fill="#928250" stroke="#c9cfba" stroke-width="0.9"/>
<text x="655.4" y="304.6" font-family="Liberation Sans, sans-serif" font-size="8.6" fill="#c5ccc0">R8</text>
<rect x="568.4" y="298.1" width="19.3" height="11.4" fill="none" stroke="#c8d0c2" stroke-width="0.8" opacity="0.85"/>
<rect x="569.6" y="299.3" width="16.9" height="9.0" fill="#a08050"/>
<rect x="571.2" y="299.9" width="13.7" height="7.8" fill="#c5461c"/>
<text x="561" y="319.2" font-family="Liberation Sans, sans-serif" font-size="8.6" fill="#c5ccc0">R24</text>
<circle cx="602.5" cy="277.7" r="2.30" fill="#6a6a30" opacity="0.55"/><circle cx="602.5" cy="277.7" r="1.6" fill="#d5c272"/>
<circle cx="616.9" cy="272.8" r="2.30" fill="#6a6a30" opacity="0.55"/><circle cx="616.9" cy="272.8" r="1.6" fill="#d5c272"/>
<circle cx="630.9" cy="272.8" r="2.30" fill="#6a6a30" opacity="0.55"/><circle cx="630.9" cy="272.8" r="1.6" fill="#d5c272"/>
<circle cx="645.8" cy="272.8" r="2.30" fill="#6a6a30" opacity="0.55"/><circle cx="645.8" cy="272.8" r="1.6" fill="#d5c272"/>
<circle cx="663" cy="272.8" r="2.30" fill="#6a6a30" opacity="0.55"/><circle cx="663" cy="272.8" r="1.6" fill="#d5c272"/>
<circle cx="681.7" cy="272.8" r="2.30" fill="#6a6a30" opacity="0.55"/><circle cx="681.7" cy="272.8" r="1.6" fill="#d5c272"/>
<circle cx="629.1" cy="303.9" r="2.30" fill="#6a6a30" opacity="0.55"/><circle cx="629.1" cy="303.9" r="1.6" fill="#d5c272"/>
<circle cx="625.6" cy="313.9" r="2.30" fill="#6a6a30" opacity="0.55"/><circle cx="625.6" cy="313.9" r="1.6" fill="#d5c272"/>
<circle cx="638.3" cy="313.9" r="2.30" fill="#6a6a30" opacity="0.55"/><circle cx="638.3" cy="313.9" r="1.6" fill="#d5c272"/>
<circle cx="650" cy="313.9" r="2.30" fill="#6a6a30" opacity="0.55"/><circle cx="650" cy="313.9" r="1.6" fill="#d5c272"/>
<circle cx="661" cy="313.9" r="2.30" fill="#6a6a30" opacity="0.55"/><circle cx="661" cy="313.9" r="1.6" fill="#d5c272"/>
<circle cx="689.5" cy="313.9" r="2.30" fill="#6a6a30" opacity="0.55"/><circle cx="689.5" cy="313.9" r="1.6" fill="#d5c272"/>
<circle cx="700.2" cy="313.9" r="2.30" fill="#6a6a30" opacity="0.55"/><circle cx="700.2" cy="313.9" r="1.6" fill="#d5c272"/>
<circle cx="711.4" cy="313.9" r="2.30" fill="#6a6a30" opacity="0.55"/><circle cx="711.4" cy="313.9" r="1.6" fill="#d5c272"/>
<circle cx="721.4" cy="315.1" r="2.30" fill="#6a6a30" opacity="0.55"/><circle cx="721.4" cy="315.1" r="1.6" fill="#d5c272"/>
<circle cx="732.2" cy="315.1" r="2.30" fill="#6a6a30" opacity="0.55"/><circle cx="732.2" cy="315.1" r="1.6" fill="#d5c272"/>
<circle cx="625.6" cy="324.7" r="2.30" fill="#6a6a30" opacity="0.55"/><circle cx="625.6" cy="324.7" r="1.6" fill="#d5c272"/>
<circle cx="625.6" cy="335.9" r="2.30" fill="#6a6a30" opacity="0.55"/><circle cx="625.6" cy="335.9" r="1.6" fill="#d5c272"/>
<circle cx="638.3" cy="324.7" r="2.30" fill="#6a6a30" opacity="0.55"/><circle cx="638.3" cy="324.7" r="1.6" fill="#d5c272"/>
<circle cx="638.3" cy="335.9" r="2.30" fill="#6a6a30" opacity="0.55"/><circle cx="638.3" cy="335.9" r="1.6" fill="#d5c272"/>
<circle cx="852.9" cy="269.6" r="9.8" fill="#18181b" stroke="#9eae96" stroke-width="1.1"/>
<path d="M853,261.5 L859.5,262.5 Q861.5,269.6 859.5,276.7 L853,277.7 Z" fill="#4a4a52"/>
<circle cx="852.9" cy="269.6" r="1.4" fill="#f0f0f0"/>
<text x="822.6" y="271.9" font-family="Liberation Sans, sans-serif" font-size="8.6" fill="#c5ccc0">TP6</text>
<circle cx="852.3" cy="297.3" r="10.1" fill="#1e3a18" opacity="0.6"/>
<circle cx="852.3" cy="297.3" r="9.5" fill="#c8161f" stroke="#d88070" stroke-width="0.6"/>
<rect x="844.7" y="294.7" width="15.2" height="5.2" rx="1" fill="#a9b1c6"/>
<text x="819.9" y="294.6" font-family="Liberation Sans, sans-serif" font-size="8.6" fill="#c5ccc0">TP5</text>
<path d="M846,304 L830,319" stroke="#4a6a30" stroke-width="0.8"/>
<circle cx="605.9" cy="334" r="10.1" fill="#1e3a18" opacity="0.6"/>
<circle cx="605.9" cy="334" r="9.5" fill="#c8161f" stroke="#d88070" stroke-width="0.6"/>
<rect x="598.3" y="331.4" width="15.2" height="5.2" rx="1" fill="#a9b1c6"/>
<text x="599.4" y="322.6" font-family="Liberation Sans, sans-serif" font-size="8.6" fill="#c5ccc0">TP14</text>
<rect x="581.9" y="332.3" width="11.4" height="17.5" fill="none" stroke="#c8d0c2" stroke-width="0.8" opacity="0.85"/>
<rect x="583.1" y="333.5" width="9.0" height="15.1" fill="#a08050"/>
<rect x="583.7" y="335.1" width="7.8" height="11.9" fill="#c5461c"/>
<text x="581" y="358.9" font-family="Liberation Sans, sans-serif" font-size="8.6" fill="#c5ccc0">R25</text>
<rect x="660.7" y="325.3" width="18.3" height="11.3" fill="none" stroke="#c8d0c2" stroke-width="0.8" opacity="0.85"/>
<rect x="661.9" y="326.5" width="15.9" height="8.9" fill="#a08050"/>
<rect x="663.5" y="327.1" width="12.7" height="7.7" fill="#c5461c"/>
<text x="644" y="325.6" font-family="Liberation Sans, sans-serif" font-size="8.6" fill="#c5ccc0">R28</text>
<text x="699.2" y="326.5" font-family="Liberation Sans, sans-serif" font-size="8.6" fill="#c5ccc0">R30</text>
<rect x="699.5" y="330.7" width="12.0" height="20.4" fill="#b8a466"/>
<rect x="699.5" y="333.2" width="12.0" height="15.4" fill="#76767e"/>
<rect x="683.4" y="327.8" width="11.4" height="18.5" fill="none" stroke="#c8d0c2" stroke-width="0.8" opacity="0.85"/>
<rect x="684.6" y="329.0" width="9.0" height="16.1" fill="#a08050"/>
<rect x="685.2" y="330.6" width="7.8" height="12.9" fill="#c5461c"/>
<text x="679" y="353.3" font-family="Liberation Sans, sans-serif" font-size="8.6" fill="#c5ccc0">C13</text>
<circle cx="662.4" cy="349.8" r="10.1" fill="#1e3a18" opacity="0.6"/>
<circle cx="662.4" cy="349.8" r="9.5" fill="#c8161f" stroke="#d88070" stroke-width="0.6"/>
<rect x="654.8" y="347.2" width="15.2" height="5.2" rx="1" fill="#a9b1c6"/>
<text x="652.8" y="367.3" font-family="Liberation Sans, sans-serif" font-size="8.6" fill="#c5ccc0">TP15</text>
<circle cx="667.7" cy="388.3" r="10.1" fill="#1e3a18" opacity="0.6"/>
<circle cx="667.7" cy="388.3" r="9.5" fill="#c8161f" stroke="#d88070" stroke-width="0.6"/>
<rect x="660.1" y="385.7" width="15.2" height="5.2" rx="1" fill="#a9b1c6"/>
<text x="640.2" y="376.4" font-family="Liberation Sans, sans-serif" font-size="8.6" fill="#c5ccc0">TP16</text>
<circle cx="690.4" cy="388.3" r="10.1" fill="#1e3a18" opacity="0.6"/>
<circle cx="690.4" cy="388.3" r="9.5" fill="#c8161f" stroke="#d88070" stroke-width="0.6"/>
<rect x="682.8" y="385.7" width="15.2" height="5.2" rx="1" fill="#a9b1c6"/>
<text x="674.7" y="376.4" font-family="Liberation Sans, sans-serif" font-size="8.6" fill="#c5ccc0">TP17</text>
<rect x="703" y="378" width="18.3" height="10.5" fill="none" stroke="#c8d0c2" stroke-width="0.8" opacity="0.85"/>
<rect x="704.2" y="379.2" width="15.9" height="8.1" fill="#a08050"/>
<rect x="705.8" y="379.8" width="12.7" height="6.9" fill="#c5461c"/>
<text x="725.1" y="392" font-family="Liberation Sans, sans-serif" font-size="8.6" fill="#c5ccc0">R29</text>
<rect x="723.8" y="333.6" width="7.2" height="8.0" fill="#0a0a0a"/>
<rect x="723.7" y="329.3" width="7.4" height="4.2" rx="0.8" fill="#928250" stroke="#c9cfba" stroke-width="0.9"/>
<rect x="723.7" y="341.6" width="7.4" height="4.2" rx="0.8" fill="#928250" stroke="#c9cfba" stroke-width="0.9"/>
<text x="730.2" y="326.8" font-family="Liberation Sans, sans-serif" font-size="8.6" fill="#c5ccc0">R9</text>
<rect x="723.8" y="353.6" width="7.2" height="7.6" fill="#0a0a0a"/>
<rect x="723.7" y="349.7" width="7.4" height="4.0" rx="0.8" fill="#928250" stroke="#c9cfba" stroke-width="0.9"/>
<rect x="723.7" y="361.2" width="7.4" height="4.0" rx="0.8" fill="#928250" stroke="#c9cfba" stroke-width="0.9"/>
<text x="720.9" y="374.5" font-family="Liberation Sans, sans-serif" font-size="8.6" fill="#c5ccc0">R10</text>
<text x="762.1" y="321.8" font-family="Liberation Sans, sans-serif" font-size="8.6" fill="#c5ccc0">U7</text>
<text x="772.6" y="327.4" font-family="Liberation Sans, sans-serif" font-size="8.6" fill="#c5ccc0">C37</text>
<text x="791.9" y="327.4" font-family="Liberation Sans, sans-serif" font-size="8.6" fill="#c5ccc0">R26</text>
<rect x="742.4" y="332.1" width="8" height="2" fill="#a79f86"/>
<rect x="771.1" y="332.1" width="8" height="2" fill="#a79f86"/>
<rect x="742.4" y="338.9" width="8" height="2" fill="#a79f86"/>
<rect x="771.1" y="338.9" width="8" height="2" fill="#a79f86"/>
<rect x="742.4" y="345.8" width="8" height="2" fill="#a79f86"/>
<rect x="771.1" y="345.8" width="8" height="2" fill="#a79f86"/>
<rect x="742.4" y="352.6" width="8" height="2" fill="#a79f86"/>
<rect x="771.1" y="352.6" width="8" height="2" fill="#a79f86"/>
<rect x="750.4" y="329.7" width="20.7" height="27.3" fill="#2d2d33"/>
<rect x="782.2" y="335.4" width="6.6" height="8.0" fill="#0a0a0a"/>
<rect x="782.1" y="331.2" width="6.8" height="4.2" rx="0.8" fill="#928250" stroke="#c9cfba" stroke-width="0.9"/>
<rect x="782.1" y="343.4" width="6.8" height="4.2" rx="0.8" fill="#928250" stroke="#c9cfba" stroke-width="0.9"/>
<rect x="793.1" y="335.4" width="6.0" height="8.0" fill="#0a0a0a"/>
<rect x="793.0" y="331.2" width="6.2" height="4.2" rx="0.8" fill="#928250" stroke="#c9cfba" stroke-width="0.9"/>
<rect x="793.0" y="343.4" width="6.2" height="4.2" rx="0.8" fill="#928250" stroke="#c9cfba" stroke-width="0.9"/>
<rect x="787.1" y="351.3" width="8.2" height="6.6" fill="#0a0a0a"/>
<rect x="782.7" y="351.2" width="4.4" height="6.8" rx="0.8" fill="#928250" stroke="#c9cfba" stroke-width="0.9"/>
<rect x="795.4" y="351.2" width="4.4" height="6.8" rx="0.8" fill="#928250" stroke="#c9cfba" stroke-width="0.9"/>
<text x="793.8" y="366.3" font-family="Liberation Sans, sans-serif" font-size="8.6" fill="#c5ccc0">R27</text>
<text x="832.8" y="350.2" font-family="Liberation Sans, sans-serif" font-size="8.6" fill="#c5ccc0">L2</text>
<rect x="837.4" y="354.1" width="7.8" height="7.1" fill="#0a0a0a"/>
<rect x="833.3" y="354.0" width="4.1" height="7.3" rx="0.8" fill="#928250" stroke="#c9cfba" stroke-width="0.9"/>
<rect x="845.1" y="354.0" width="4.1" height="7.3" rx="0.8" fill="#928250" stroke="#c9cfba" stroke-width="0.9"/>
<circle cx="701.8" cy="358.9" r="2.30" fill="#6a6a30" opacity="0.55"/><circle cx="701.8" cy="358.9" r="1.6" fill="#d5c272"/>
<circle cx="709.7" cy="358.9" r="2.30" fill="#6a6a30" opacity="0.55"/><circle cx="709.7" cy="358.9" r="1.6" fill="#d5c272"/>
<circle cx="716.9" cy="358.9" r="2.30" fill="#6a6a30" opacity="0.55"/><circle cx="716.9" cy="358.9" r="1.6" fill="#d5c272"/>
<circle cx="701.8" cy="366.3" r="2.30" fill="#6a6a30" opacity="0.55"/><circle cx="701.8" cy="366.3" r="1.6" fill="#d5c272"/>
<circle cx="709.7" cy="366.3" r="2.30" fill="#6a6a30" opacity="0.55"/><circle cx="709.7" cy="366.3" r="1.6" fill="#d5c272"/>
<circle cx="716.9" cy="366.3" r="2.30" fill="#6a6a30" opacity="0.55"/><circle cx="716.9" cy="366.3" r="1.6" fill="#d5c272"/>
<circle cx="736.0" cy="362.4" r="2.30" fill="#6a6a30" opacity="0.55"/><circle cx="736.0" cy="362.4" r="1.6" fill="#d5c272"/>
<circle cx="743.5" cy="362.4" r="2.30" fill="#6a6a30" opacity="0.55"/><circle cx="743.5" cy="362.4" r="1.6" fill="#d5c272"/>
<circle cx="751.0" cy="362.4" r="2.30" fill="#6a6a30" opacity="0.55"/><circle cx="751.0" cy="362.4" r="1.6" fill="#d5c272"/>
<circle cx="758.5" cy="362.4" r="2.30" fill="#6a6a30" opacity="0.55"/><circle cx="758.5" cy="362.4" r="1.6" fill="#d5c272"/>
<circle cx="766.0" cy="362.4" r="2.30" fill="#6a6a30" opacity="0.55"/><circle cx="766.0" cy="362.4" r="1.6" fill="#d5c272"/>
<circle cx="773.5" cy="362.4" r="2.30" fill="#6a6a30" opacity="0.55"/><circle cx="773.5" cy="362.4" r="1.6" fill="#d5c272"/>
<circle cx="781.0" cy="362.4" r="2.30" fill="#6a6a30" opacity="0.55"/><circle cx="781.0" cy="362.4" r="1.6" fill="#d5c272"/>
<circle cx="740.0" cy="367.7" r="2.30" fill="#6a6a30" opacity="0.55"/><circle cx="740.0" cy="367.7" r="1.6" fill="#d5c272"/>
<circle cx="747.5" cy="367.7" r="2.30" fill="#6a6a30" opacity="0.55"/><circle cx="747.5" cy="367.7" r="1.6" fill="#d5c272"/>
<circle cx="755.0" cy="367.7" r="2.30" fill="#6a6a30" opacity="0.55"/><circle cx="755.0" cy="367.7" r="1.6" fill="#d5c272"/>
<circle cx="762.5" cy="367.7" r="2.30" fill="#6a6a30" opacity="0.55"/><circle cx="762.5" cy="367.7" r="1.6" fill="#d5c272"/>
<circle cx="770.0" cy="367.7" r="2.30" fill="#6a6a30" opacity="0.55"/><circle cx="770.0" cy="367.7" r="1.6" fill="#d5c272"/>
<circle cx="777.5" cy="367.7" r="2.30" fill="#6a6a30" opacity="0.55"/><circle cx="777.5" cy="367.7" r="1.6" fill="#d5c272"/>
<circle cx="785.0" cy="367.7" r="2.30" fill="#6a6a30" opacity="0.55"/><circle cx="785.0" cy="367.7" r="1.6" fill="#d5c272"/>
<circle cx="591.5" cy="385.6" r="2.30" fill="#6a6a30" opacity="0.55"/><circle cx="591.5" cy="385.6" r="1.6" fill="#d5c272"/>
<circle cx="596" cy="381" r="2.30" fill="#6a6a30" opacity="0.55"/><circle cx="596" cy="381" r="1.6" fill="#d5c272"/>
<circle cx="600.5" cy="376" r="2.30" fill="#6a6a30" opacity="0.55"/><circle cx="600.5" cy="376" r="1.6" fill="#d5c272"/>
<circle cx="605" cy="371" r="2.30" fill="#6a6a30" opacity="0.55"/><circle cx="605" cy="371" r="1.6" fill="#d5c272"/>
<circle cx="608.5" cy="366" r="2.30" fill="#6a6a30" opacity="0.55"/><circle cx="608.5" cy="366" r="1.6" fill="#d5c272"/>
<circle cx="612.5" cy="361.5" r="2.30" fill="#6a6a30" opacity="0.55"/><circle cx="612.5" cy="361.5" r="1.6" fill="#d5c272"/>
<circle cx="617" cy="357" r="2.30" fill="#6a6a30" opacity="0.55"/><circle cx="617" cy="357" r="1.6" fill="#d5c272"/>
<circle cx="620.5" cy="353" r="2.30" fill="#6a6a30" opacity="0.55"/><circle cx="620.5" cy="353" r="1.6" fill="#d5c272"/>
<circle cx="624.8" cy="349" r="2.30" fill="#6a6a30" opacity="0.55"/><circle cx="624.8" cy="349" r="1.6" fill="#d5c272"/>
<circle cx="578.4" cy="361.1" r="2.30" fill="#6a6a30" opacity="0.55"/><circle cx="578.4" cy="361.1" r="1.6" fill="#d5c272"/>
<circle cx="578.4" cy="368" r="2.30" fill="#6a6a30" opacity="0.55"/><circle cx="578.4" cy="368" r="1.6" fill="#d5c272"/>
<circle cx="613.4" cy="390" r="2.30" fill="#6a6a30" opacity="0.55"/><circle cx="613.4" cy="390" r="1.6" fill="#d5c272"/>
<circle cx="621.3" cy="388.5" r="2.30" fill="#6a6a30" opacity="0.55"/><circle cx="621.3" cy="388.5" r="1.6" fill="#d5c272"/>
<circle cx="621.3" cy="376" r="2.30" fill="#6a6a30" opacity="0.55"/><circle cx="621.3" cy="376" r="1.6" fill="#d5c272"/>
<circle cx="634.4" cy="362.9" r="2.30" fill="#6a6a30" opacity="0.55"/><circle cx="634.4" cy="362.9" r="1.6" fill="#d5c272"/>
<circle cx="644.9" cy="352.4" r="2.30" fill="#6a6a30" opacity="0.55"/><circle cx="644.9" cy="352.4" r="1.6" fill="#d5c272"/>
<text x="554.6" y="368.5" font-family="Liberation Sans, sans-serif" font-size="8.6" fill="#c5ccc0">C23</text>
<text x="577.5" y="381.3" font-family="Liberation Sans, sans-serif" font-size="6" fill="#c5ccc0">C24</text>
<text x="613" y="398.5" font-family="Liberation Sans, sans-serif" font-size="6.5" fill="#c5ccc0">C31</text>
<circle cx="614" cy="390" r="2.30" fill="#6a6a30" opacity="0.55"/><circle cx="614" cy="390" r="1.6" fill="#d5c272"/>
<circle cx="621.5" cy="388" r="2.30" fill="#6a6a30" opacity="0.55"/><circle cx="621.5" cy="388" r="1.6" fill="#d5c272"/>
<path d="M567,402.6 L801.5,402.6 L813,392.5 L852,392.5 L865.5,406" stroke="#3f6226" stroke-width="1.4" fill="none"/>
<path d="M567,407 L803,407 L814.5,396.5 L850,396.5 L861,408" stroke="#3f6226" stroke-width="1.4" fill="none"/>
<path d="M654,411 L686,448.5 L761,448.5" stroke="#3f6226" stroke-width="1.4" fill="none"/>
<text x="593.2" y="415.3" font-family="Liberation Sans, sans-serif" font-size="8.6" fill="#c5ccc0" textLength="50" lengthAdjust="spacingAndGlyphs">C28C29C30</text>
<circle cx="607.5" cy="423.9" r="2.30" fill="#6a6a30" opacity="0.55"/><circle cx="607.5" cy="423.9" r="1.6" fill="#d5c272"/>
<circle cx="627.4" cy="423.9" r="2.30" fill="#6a6a30" opacity="0.55"/><circle cx="627.4" cy="423.9" r="1.6" fill="#d5c272"/>
<circle cx="643.5" cy="423.9" r="2.30" fill="#6a6a30" opacity="0.55"/><circle cx="643.5" cy="423.9" r="1.6" fill="#d5c272"/>
<circle cx="601.7" cy="441" r="2.30" fill="#6a6a30" opacity="0.55"/><circle cx="601.7" cy="441" r="1.6" fill="#d5c272"/>
<circle cx="609.1" cy="441" r="2.30" fill="#6a6a30" opacity="0.55"/><circle cx="609.1" cy="441" r="1.6" fill="#d5c272"/>
<circle cx="616.5" cy="441" r="2.30" fill="#6a6a30" opacity="0.55"/><circle cx="616.5" cy="441" r="1.6" fill="#d5c272"/>
<circle cx="623.9000000000001" cy="441" r="2.30" fill="#6a6a30" opacity="0.55"/><circle cx="623.9000000000001" cy="441" r="1.6" fill="#d5c272"/>
<circle cx="631.3000000000001" cy="441" r="2.30" fill="#6a6a30" opacity="0.55"/><circle cx="631.3000000000001" cy="441" r="1.6" fill="#d5c272"/>
<circle cx="638.7" cy="441" r="2.30" fill="#6a6a30" opacity="0.55"/><circle cx="638.7" cy="441" r="1.6" fill="#d5c272"/>
<circle cx="646.1" cy="441" r="2.30" fill="#6a6a30" opacity="0.55"/><circle cx="646.1" cy="441" r="1.6" fill="#d5c272"/>
<circle cx="653.5" cy="441" r="2.30" fill="#6a6a30" opacity="0.55"/><circle cx="653.5" cy="441" r="1.6" fill="#d5c272"/>
<circle cx="660.9000000000001" cy="441" r="2.30" fill="#6a6a30" opacity="0.55"/><circle cx="660.9000000000001" cy="441" r="1.6" fill="#d5c272"/>
<circle cx="586.7" cy="426.7" r="2.30" fill="#6a6a30" opacity="0.55"/><circle cx="586.7" cy="426.7" r="1.6" fill="#d5c272"/>
<circle cx="586.7" cy="432.7" r="2.30" fill="#6a6a30" opacity="0.55"/><circle cx="586.7" cy="432.7" r="1.6" fill="#d5c272"/>
<circle cx="586.7" cy="438.7" r="2.30" fill="#6a6a30" opacity="0.55"/><circle cx="586.7" cy="438.7" r="1.6" fill="#d5c272"/>
<circle cx="586.7" cy="445" r="2.30" fill="#6a6a30" opacity="0.55"/><circle cx="586.7" cy="445" r="1.6" fill="#d5c272"/>
<circle cx="593.2" cy="426.7" r="2.30" fill="#6a6a30" opacity="0.55"/><circle cx="593.2" cy="426.7" r="1.6" fill="#d5c272"/>
<circle cx="593.2" cy="432.7" r="2.30" fill="#6a6a30" opacity="0.55"/><circle cx="593.2" cy="432.7" r="1.6" fill="#d5c272"/>
<circle cx="593.2" cy="438.7" r="2.30" fill="#6a6a30" opacity="0.55"/><circle cx="593.2" cy="438.7" r="1.6" fill="#d5c272"/>
<circle cx="593.2" cy="445" r="2.30" fill="#6a6a30" opacity="0.55"/><circle cx="593.2" cy="445" r="1.6" fill="#d5c272"/>
<circle cx="856.9" cy="376.4" r="2.30" fill="#6a6a30" opacity="0.55"/><circle cx="856.9" cy="376.4" r="1.6" fill="#d5c272"/>
<circle cx="863" cy="381.7" r="2.30" fill="#6a6a30" opacity="0.55"/><circle cx="863" cy="381.7" r="1.6" fill="#d5c272"/>
<text x="867.4" y="400.9" font-family="Liberation Sans, sans-serif" font-size="8.6" fill="#c5ccc0">C33</text>
<rect x="871.0" y="385.8" width="8.0" height="7.5" fill="#0a0a0a"/>
<rect x="866.7" y="385.7" width="4.2" height="7.7" rx="0.8" fill="#928250" stroke="#c9cfba" stroke-width="0.9"/>
<rect x="879.0" y="385.7" width="4.2" height="7.7" rx="0.8" fill="#928250" stroke="#c9cfba" stroke-width="0.9"/>
<rect x="613.15" y="453.6" width="6.0" height="10.7" fill="#b8a466"/>
<rect x="598.95" y="480.2" width="6.6" height="9.5" fill="#b8a466"/>
<circle cx="603.8" cy="497.9" r="2.50" fill="#6a6a30" opacity="0.55"/><circle cx="603.8" cy="497.9" r="1.8" fill="#d5c272"/>
<rect x="626.75" y="480.2" width="6.6" height="9.5" fill="#b8a466"/>
<circle cx="631.5" cy="497.9" r="2.50" fill="#6a6a30" opacity="0.55"/><circle cx="631.5" cy="497.9" r="1.8" fill="#d5c272"/>
<path d="M595.1,479.6 L595.1,468.3 Q595.1,464.3 599.2,464.3 L605.2,464.3 Q609.4,464.3 609.4,468.3 L609.4,479.6 Z" fill="#222" stroke="#3a3a3a" stroke-width="0.6"/>
<rect x="599.6" y="469.4" width="5.2" height="5.2" fill="#8e8e8e" transform="rotate(12 602.2 472.0)"/>
<path d="M609.0,479.6 L609.0,468.3 Q609.0,464.3 613.1,464.3 L619.1,464.3 Q623.2,464.3 623.2,468.3 L623.2,479.6 Z" fill="#222" stroke="#3a3a3a" stroke-width="0.6"/>
<rect x="613.5" y="469.4" width="5.2" height="5.2" fill="#8e8e8e" transform="rotate(12 616.1 472.0)"/>
<path d="M622.9,479.6 L622.9,468.3 Q622.9,464.3 627.0,464.3 L633.0,464.3 Q637.1,464.3 637.1,468.3 L637.1,479.6 Z" fill="#222" stroke="#3a3a3a" stroke-width="0.6"/>
<rect x="627.4" y="469.4" width="5.2" height="5.2" fill="#8e8e8e" transform="rotate(12 630.0 472.0)"/>
<path d="M594.8,470.3 Q597.3,462.8 603.3,463.0" stroke="#c8d0c2" stroke-width="0.8" fill="none"/>
<path d="M637.5,470.3 Q635.0,462.8 629.0,463.0" stroke="#c8d0c2" stroke-width="0.8" fill="none"/>
<text x="607.5" y="492.4" font-family="Liberation Sans, sans-serif" font-size="8.6" fill="#c5ccc0">J10</text>
<rect x="661.9" y="453.6" width="6.0" height="10.7" fill="#b8a466"/>
<rect x="647.3333333333334" y="480.2" width="6.6" height="9.5" fill="#b8a466"/>
<circle cx="652.1" cy="497.9" r="2.50" fill="#6a6a30" opacity="0.55"/><circle cx="652.1" cy="497.9" r="1.8" fill="#d5c272"/>
<rect x="675.8666666666667" y="480.2" width="6.6" height="9.5" fill="#b8a466"/>
<circle cx="680.7" cy="497.9" r="2.50" fill="#6a6a30" opacity="0.55"/><circle cx="680.7" cy="497.9" r="1.8" fill="#d5c272"/>
<path d="M643.5,479.6 L643.5,468.3 Q643.5,464.3 647.6,464.3 L653.6,464.3 Q657.7,464.3 657.7,468.3 L657.7,479.6 Z" fill="#222" stroke="#3a3a3a" stroke-width="0.6"/>
<rect x="648.0" y="469.4" width="5.2" height="5.2" fill="#8e8e8e" transform="rotate(12 650.6 472.0)"/>
<path d="M657.8,479.6 L657.8,468.3 Q657.8,464.3 661.9,464.3 L667.9,464.3 Q672.0,464.3 672.0,468.3 L672.0,479.6 Z" fill="#222" stroke="#3a3a3a" stroke-width="0.6"/>
<rect x="662.3" y="469.4" width="5.2" height="5.2" fill="#8e8e8e" transform="rotate(12 664.9 472.0)"/>
<path d="M672.1,479.6 L672.1,468.3 Q672.1,464.3 676.2,464.3 L682.2,464.3 Q686.3,464.3 686.3,468.3 L686.3,479.6 Z" fill="#222" stroke="#3a3a3a" stroke-width="0.6"/>
<rect x="676.6" y="469.4" width="5.2" height="5.2" fill="#8e8e8e" transform="rotate(12 679.2 472.0)"/>
<path d="M643.0,470.3 Q645.5,462.8 651.5,463.0" stroke="#c8d0c2" stroke-width="0.8" fill="none"/>
<path d="M686.8,470.3 Q684.3,462.8 678.3,463.0" stroke="#c8d0c2" stroke-width="0.8" fill="none"/>
<text x="658.9" y="492.4" font-family="Liberation Sans, sans-serif" font-size="8.6" fill="#c5ccc0">J7</text>
<rect x="710.6" y="453.6" width="6.0" height="10.7" fill="#b8a466"/>
<rect x="696.0333333333334" y="480.2" width="6.6" height="9.5" fill="#b8a466"/>
<circle cx="700.8" cy="497.9" r="2.50" fill="#6a6a30" opacity="0.55"/><circle cx="700.8" cy="497.9" r="1.8" fill="#d5c272"/>
<rect x="724.5666666666667" y="480.2" width="6.6" height="9.5" fill="#b8a466"/>
<circle cx="729.4" cy="497.9" r="2.50" fill="#6a6a30" opacity="0.55"/><circle cx="729.4" cy="497.9" r="1.8" fill="#d5c272"/>
<path d="M692.2,479.6 L692.2,468.3 Q692.2,464.3 696.3,464.3 L702.3,464.3 Q706.4,464.3 706.4,468.3 L706.4,479.6 Z" fill="#222" stroke="#3a3a3a" stroke-width="0.6"/>
<rect x="696.7" y="469.4" width="5.2" height="5.2" fill="#8e8e8e" transform="rotate(12 699.3 472.0)"/>
<path d="M706.5,479.6 L706.5,468.3 Q706.5,464.3 710.6,464.3 L716.6,464.3 Q720.7,464.3 720.7,468.3 L720.7,479.6 Z" fill="#222" stroke="#3a3a3a" stroke-width="0.6"/>
<rect x="711.0" y="469.4" width="5.2" height="5.2" fill="#8e8e8e" transform="rotate(12 713.6 472.0)"/>
<path d="M720.8,479.6 L720.8,468.3 Q720.8,464.3 724.9,464.3 L730.9,464.3 Q735.0,464.3 735.0,468.3 L735.0,479.6 Z" fill="#222" stroke="#3a3a3a" stroke-width="0.6"/>
<rect x="725.3" y="469.4" width="5.2" height="5.2" fill="#8e8e8e" transform="rotate(12 727.9 472.0)"/>
<path d="M691.7,470.3 Q694.2,462.8 700.2,463.0" stroke="#c8d0c2" stroke-width="0.8" fill="none"/>
<path d="M735.5,470.3 Q733.0,462.8 727.0,463.0" stroke="#c8d0c2" stroke-width="0.8" fill="none"/>
<text x="708.7" y="492.4" font-family="Liberation Sans, sans-serif" font-size="8.6" fill="#c5ccc0">J8</text>
<rect x="759.9" y="453.6" width="6.0" height="10.7" fill="#b8a466"/>
<rect x="745.3333333333334" y="480.2" width="6.6" height="9.5" fill="#b8a466"/>
<circle cx="750.1" cy="497.9" r="2.50" fill="#6a6a30" opacity="0.55"/><circle cx="750.1" cy="497.9" r="1.8" fill="#d5c272"/>
<rect x="773.8666666666667" y="480.2" width="6.6" height="9.5" fill="#b8a466"/>
<circle cx="778.7" cy="497.9" r="2.50" fill="#6a6a30" opacity="0.55"/><circle cx="778.7" cy="497.9" r="1.8" fill="#d5c272"/>
<path d="M741.5,479.6 L741.5,468.3 Q741.5,464.3 745.6,464.3 L751.6,464.3 Q755.7,464.3 755.7,468.3 L755.7,479.6 Z" fill="#222" stroke="#3a3a3a" stroke-width="0.6"/>
<rect x="746.0" y="469.4" width="5.2" height="5.2" fill="#8e8e8e" transform="rotate(12 748.6 472.0)"/>
<path d="M755.8,479.6 L755.8,468.3 Q755.8,464.3 759.9,464.3 L765.9,464.3 Q770.0,464.3 770.0,468.3 L770.0,479.6 Z" fill="#222" stroke="#3a3a3a" stroke-width="0.6"/>
<rect x="760.3" y="469.4" width="5.2" height="5.2" fill="#8e8e8e" transform="rotate(12 762.9 472.0)"/>
<path d="M770.1,479.6 L770.1,468.3 Q770.1,464.3 774.2,464.3 L780.2,464.3 Q784.3,464.3 784.3,468.3 L784.3,479.6 Z" fill="#222" stroke="#3a3a3a" stroke-width="0.6"/>
<rect x="774.6" y="469.4" width="5.2" height="5.2" fill="#8e8e8e" transform="rotate(12 777.2 472.0)"/>
<path d="M741.0,470.3 Q743.5,462.8 749.5,463.0" stroke="#c8d0c2" stroke-width="0.8" fill="none"/>
<path d="M784.8,470.3 Q782.3,462.8 776.3,463.0" stroke="#c8d0c2" stroke-width="0.8" fill="none"/>
<text x="758" y="492.4" font-family="Liberation Sans, sans-serif" font-size="8.6" fill="#c5ccc0">J9</text>
<rect x="628.1" y="455.5" width="8.3" height="7.4" fill="#0a0a0a"/>
<rect x="623.6" y="455.4" width="4.5" height="7.6" rx="0.8" fill="#928250" stroke="#c9cfba" stroke-width="0.9"/>
<rect x="636.3" y="455.4" width="4.5" height="7.6" rx="0.8" fill="#928250" stroke="#c9cfba" stroke-width="0.9"/>
<text x="624.2" y="453.2" font-family="Liberation Sans, sans-serif" font-size="8.6" fill="#c5ccc0">R34</text>
<rect x="677.0" y="455.5" width="7.9" height="7.4" fill="#0a0a0a"/>
<rect x="672.8" y="455.4" width="4.2" height="7.6" rx="0.8" fill="#928250" stroke="#c9cfba" stroke-width="0.9"/>
<rect x="684.8" y="455.4" width="4.2" height="7.6" rx="0.8" fill="#928250" stroke="#c9cfba" stroke-width="0.9"/>
<text x="672.3" y="453.2" font-family="Liberation Sans, sans-serif" font-size="8.6" fill="#c5ccc0">R33</text>
<circle cx="583.5" cy="493.5" r="10.3" fill="#151515" stroke="#b5c0ad" stroke-width="1.1"/>
<rect x="580.8" y="486.0" width="5.4" height="15" rx="1.2" fill="#8a8a8a"/>
<text x="571" y="479" font-family="Liberation Sans, sans-serif" font-size="8.6" fill="#c5ccc0">TP18</text>
<text x="797.3" y="420.4" font-family="Liberation Sans, sans-serif" font-size="8.6" fill="#c5ccc0">D6</text>
<text x="778.8" y="443.6" font-family="Liberation Sans, sans-serif" font-size="8.6" fill="#c5ccc0">U9</text>
<text x="780.4" y="457.9" font-family="Liberation Sans, sans-serif" font-size="8.6" fill="#c5ccc0">D5</text>
<rect x="792.7" y="442.4" width="9.2" height="8.1" fill="#1e1e24"/>
<circle cx="792" cy="428" r="2.10" fill="#6a6a30" opacity="0.55"/><circle cx="792" cy="428" r="1.4" fill="#d5c272"/>
<circle cx="798" cy="425" r="2.10" fill="#6a6a30" opacity="0.55"/><circle cx="798" cy="425" r="1.4" fill="#d5c272"/>
<circle cx="804" cy="427" r="2.10" fill="#6a6a30" opacity="0.55"/><circle cx="804" cy="427" r="1.4" fill="#d5c272"/>
<circle cx="800" cy="432" r="2.10" fill="#6a6a30" opacity="0.55"/><circle cx="800" cy="432" r="1.4" fill="#d5c272"/>
<circle cx="790" cy="464" r="2.10" fill="#6a6a30" opacity="0.55"/><circle cx="790" cy="464" r="1.4" fill="#d5c272"/>
<circle cx="795" cy="460" r="2.10" fill="#6a6a30" opacity="0.55"/><circle cx="795" cy="460" r="1.4" fill="#d5c272"/>
<circle cx="800" cy="467" r="2.10" fill="#6a6a30" opacity="0.55"/><circle cx="800" cy="467" r="1.4" fill="#d5c272"/>
<circle cx="793" cy="470" r="2.10" fill="#6a6a30" opacity="0.55"/><circle cx="793" cy="470" r="1.4" fill="#d5c272"/>
<circle cx="803" cy="473" r="2.10" fill="#6a6a30" opacity="0.55"/><circle cx="803" cy="473" r="1.4" fill="#d5c272"/>
<circle cx="795" cy="477" r="2.10" fill="#6a6a30" opacity="0.55"/><circle cx="795" cy="477" r="1.4" fill="#d5c272"/>
<circle cx="792" cy="489" r="2.10" fill="#6a6a30" opacity="0.55"/><circle cx="792" cy="489" r="1.4" fill="#d5c272"/>
<rect x="875.5" y="494.5" width="9" height="9" fill="#5a4a24"/><circle cx="880" cy="499" r="2" fill="#c0a550"/>
<circle cx="837" cy="408" r="7.5" fill="#9c8a3c"/><circle cx="837" cy="409" r="4.5" fill="#e0e0e0"/>
<circle cx="837" cy="487.5" r="7.5" fill="#9c8a3c"/><circle cx="837" cy="486.5" r="4.5" fill="#e0e0e0"/>
<rect x="809.8" y="410" width="84.7" height="75.2" fill="#e6e6e6"/>
<rect x="809.8" y="410" width="3" height="75.2" fill="#f0f0f0"/>
<rect x="812.8" y="422.8" width="1.2" height="48.5" fill="#3a3a3a"/>
<rect x="829.2" y="424" width="1" height="20" fill="#c4c4c4"/><rect x="829.2" y="456" width="1" height="18" fill="#c4c4c4"/>
<rect x="869.5" y="429.7" width="17.3" height="9.3" fill="#e2e2e2" stroke="#c4c4c4" stroke-width="0.8"/>
<rect x="869.5" y="461" width="17.3" height="10.3" fill="#e2e2e2" stroke="#c4c4c4" stroke-width="0.8"/>
<text x="812.8" y="499.6" font-family="Liberation Sans, sans-serif" font-size="10" font-weight="bold" fill="#dfe6da">J2</text>
<rect x="500" y="184" width="15" height="70" fill="#2a481c"/>
<rect x="502.1" y="196.9" width="12.3" height="4.4" fill="#c6b67e"/>
<rect x="572.2" y="196.9" width="12.2" height="4.4" fill="#c6b67e"/>
<rect x="502.1" y="217.9" width="12.3" height="4.4" fill="#c6b67e"/>
<rect x="572.2" y="217.9" width="12.2" height="4.4" fill="#c6b67e"/>
<rect x="502.1" y="238.60000000000002" width="12.3" height="4.4" fill="#c6b67e"/>
<rect x="572.2" y="238.60000000000002" width="12.2" height="4.4" fill="#c6b67e"/>
<rect x="514.4" y="184.6" width="57.8" height="68.8" fill="#666569"/>
<rect x="514.4" y="252.2" width="57.8" height="1.3" fill="#9aa29a"/>
<circle cx="519.8" cy="191.7" r="2.8" fill="#c8c8cc"/>
<text x="502.7" y="181.1" font-family="Liberation Sans, sans-serif" font-size="8.6" fill="#c5ccc0">T1</text>
<rect x="515.1" y="381.20" width="10.5" height="1.9" fill="#b9b296"/>
<rect x="566" y="381.20" width="10.5" height="1.9" fill="#b9b296"/>
<rect x="515.1" y="384.75" width="10.5" height="1.9" fill="#b9b296"/>
<rect x="566" y="384.75" width="10.5" height="1.9" fill="#b9b296"/>
<rect x="515.1" y="388.30" width="10.5" height="1.9" fill="#b9b296"/>
<rect x="566" y="388.30" width="10.5" height="1.9" fill="#b9b296"/>
<rect x="515.1" y="391.85" width="10.5" height="1.9" fill="#b9b296"/>
<rect x="566" y="391.85" width="10.5" height="1.9" fill="#b9b296"/>
<rect x="515.1" y="395.40" width="10.5" height="1.9" fill="#b9b296"/>
<rect x="566" y="395.40" width="10.5" height="1.9" fill="#b9b296"/>
<rect x="515.1" y="398.95" width="10.5" height="1.9" fill="#b9b296"/>
<rect x="566" y="398.95" width="10.5" height="1.9" fill="#b9b296"/>
<rect x="515.1" y="402.50" width="10.5" height="1.9" fill="#b9b296"/>
<rect x="566" y="402.50" width="10.5" height="1.9" fill="#b9b296"/>
<rect x="515.1" y="406.05" width="10.5" height="1.9" fill="#b9b296"/>
<rect x="566" y="406.05" width="10.5" height="1.9" fill="#b9b296"/>
<rect x="515.1" y="409.60" width="10.5" height="1.9" fill="#b9b296"/>
<rect x="566" y="409.60" width="10.5" height="1.9" fill="#b9b296"/>
<rect x="515.1" y="413.15" width="10.5" height="1.9" fill="#b9b296"/>
<rect x="566" y="413.15" width="10.5" height="1.9" fill="#b9b296"/>
<rect x="515.1" y="416.70" width="10.5" height="1.9" fill="#b9b296"/>
<rect x="566" y="416.70" width="10.5" height="1.9" fill="#b9b296"/>
<rect x="515.1" y="420.25" width="10.5" height="1.9" fill="#b9b296"/>
<rect x="566" y="420.25" width="10.5" height="1.9" fill="#b9b296"/>
<rect x="515.1" y="423.80" width="10.5" height="1.9" fill="#b9b296"/>
<rect x="566" y="423.80" width="10.5" height="1.9" fill="#b9b296"/>
<rect x="515.1" y="427.35" width="10.5" height="1.9" fill="#b9b296"/>
<rect x="566" y="427.35" width="10.5" height="1.9" fill="#b9b296"/>
<rect x="525.3" y="377" width="40.9" height="58" fill="#2b2b2e"/>
<rect x="528" y="376.2" width="36" height="1.6" fill="#9aa090"/>
<rect x="526.2" y="434" width="40.1" height="1.2" fill="#6a6a6a"/>
<circle cx="534.4" cy="384.4" r="3.3" fill="#c02028"/>
<g fill="#75757c"><rect x="531" y="390" width="1.2" height="25"/><rect x="533.5" y="390" width="1.2" height="18"/><rect x="536" y="390" width="1" height="10"/></g>
<rect x="497.6" y="389.59999999999997" width="3" height="2.6" rx="0.8" fill="#0b0b0b"/>
<rect x="501.9" y="389.59999999999997" width="3" height="2.6" rx="0.8" fill="#0b0b0b"/>
<rect x="506.2" y="389.59999999999997" width="3" height="2.6" rx="0.8" fill="#0b0b0b"/>
<rect x="511.0" y="389.59999999999997" width="3" height="2.6" rx="0.8" fill="#0b0b0b"/>
<rect x="506.2" y="385.8" width="3" height="2.6" rx="0.8" fill="#0b0b0b"/>
<rect x="577.9" y="389.59999999999997" width="3" height="2.6" rx="0.8" fill="#0b0b0b"/>
<rect x="582.1" y="389.59999999999997" width="3" height="2.6" rx="0.8" fill="#0b0b0b"/>
<rect x="586.4" y="389.59999999999997" width="3" height="2.6" rx="0.8" fill="#0b0b0b"/>
<rect x="591.2" y="389.59999999999997" width="3" height="2.6" rx="0.8" fill="#0b0b0b"/>
<rect x="582.1" y="385.8" width="3" height="2.6" rx="0.8" fill="#0b0b0b"/>
<rect x="501.3" y="418.09999999999997" width="3" height="2.6" rx="0.8" fill="#0b0b0b"/>
<rect x="506.0" y="418.09999999999997" width="3" height="2.6" rx="0.8" fill="#0b0b0b"/>
<rect x="510.5" y="418.09999999999997" width="3" height="2.6" rx="0.8" fill="#0b0b0b"/>
<rect x="577.9" y="418.09999999999997" width="3" height="2.6" rx="0.8" fill="#0b0b0b"/>
<rect x="582.1" y="418.09999999999997" width="3" height="2.6" rx="0.8" fill="#0b0b0b"/>
<rect x="586.8" y="418.09999999999997" width="3" height="2.6" rx="0.8" fill="#0b0b0b"/>
<text x="497" y="399.4" font-family="Liberation Sans, sans-serif" font-size="4.5" fill="#9aa898">C16C17</text>
<text x="578.8" y="399.4" font-family="Liberation Sans, sans-serif" font-size="4.5" fill="#9aa898">C25C26</text>
<text x="536" y="372" font-family="Liberation Sans, sans-serif" font-size="8.6" fill="#c5ccc0">U1</text>
<text x="515" y="367.5" font-family="Liberation Sans, sans-serif" font-size="8.6" fill="#c5ccc0">C14</text>
<text x="499.4" y="379.1" font-family="Liberation Sans, sans-serif" font-size="6" fill="#c5ccc0">C15</text>
<circle cx="510.6" cy="360.8" r="2.30" fill="#6a6a30" opacity="0.55"/><circle cx="510.6" cy="360.8" r="1.6" fill="#d5c272"/>
<circle cx="510.6" cy="366.4" r="2.30" fill="#6a6a30" opacity="0.55"/><circle cx="510.6" cy="366.4" r="1.6" fill="#d5c272"/>
<circle cx="469" cy="338.7" r="2.30" fill="#6a6a30" opacity="0.55"/><circle cx="469" cy="338.7" r="1.6" fill="#d5c272"/>
<circle cx="474.5" cy="345.7" r="2.30" fill="#6a6a30" opacity="0.55"/><circle cx="474.5" cy="345.7" r="1.6" fill="#d5c272"/>
<circle cx="478.2" cy="352.7" r="2.30" fill="#6a6a30" opacity="0.55"/><circle cx="478.2" cy="352.7" r="1.6" fill="#d5c272"/>
<circle cx="483.2" cy="359.7" r="2.30" fill="#6a6a30" opacity="0.55"/><circle cx="483.2" cy="359.7" r="1.6" fill="#d5c272"/>
<circle cx="486.2" cy="365.7" r="2.30" fill="#6a6a30" opacity="0.55"/><circle cx="486.2" cy="365.7" r="1.6" fill="#d5c272"/>
<circle cx="489.5" cy="371.9" r="2.30" fill="#6a6a30" opacity="0.55"/><circle cx="489.5" cy="371.9" r="1.6" fill="#d5c272"/>
<circle cx="494.5" cy="379.4" r="2.30" fill="#6a6a30" opacity="0.55"/><circle cx="494.5" cy="379.4" r="1.6" fill="#d5c272"/>
<circle cx="444" cy="345.7" r="2.30" fill="#6a6a30" opacity="0.55"/><circle cx="444" cy="345.7" r="1.6" fill="#d5c272"/>
<circle cx="453" cy="357.4" r="2.30" fill="#6a6a30" opacity="0.55"/><circle cx="453" cy="357.4" r="1.6" fill="#d5c272"/>
<circle cx="463.4" cy="367.5" r="2.30" fill="#6a6a30" opacity="0.55"/><circle cx="463.4" cy="367.5" r="1.6" fill="#d5c272"/>
<circle cx="513.8" cy="372" r="1.80" fill="#6a6a30" opacity="0.55"/><circle cx="513.8" cy="372" r="1.1" fill="#d5c272"/></svg>

<div class="box" style="left:3px;top:402px;width:128px;height:86px;">USB Host</div>
<div class="box" style="left:969px;top:408px;width:128px;height:86px;">USB Device</div>
<svg width="1100" height="514" viewBox="0 0 1100 514" style="pointer-events:none">
  <line x1="144" y1="445" x2="192" y2="445" stroke="#000" stroke-width="2.2"/>
  <path d="M131,445 L145,440 L145,450 Z" fill="#000"/>
  <path d="M205,445 L191,440 L191,450 Z" fill="#000"/>
  <line x1="908" y1="451" x2="955" y2="451" stroke="#000" stroke-width="2.2"/>
  <path d="M895,451 L909,446 L909,456 Z" fill="#000"/>
  <path d="M968,451 L954,446 L954,456 Z" fill="#000"/>
</svg>
</body></html>
